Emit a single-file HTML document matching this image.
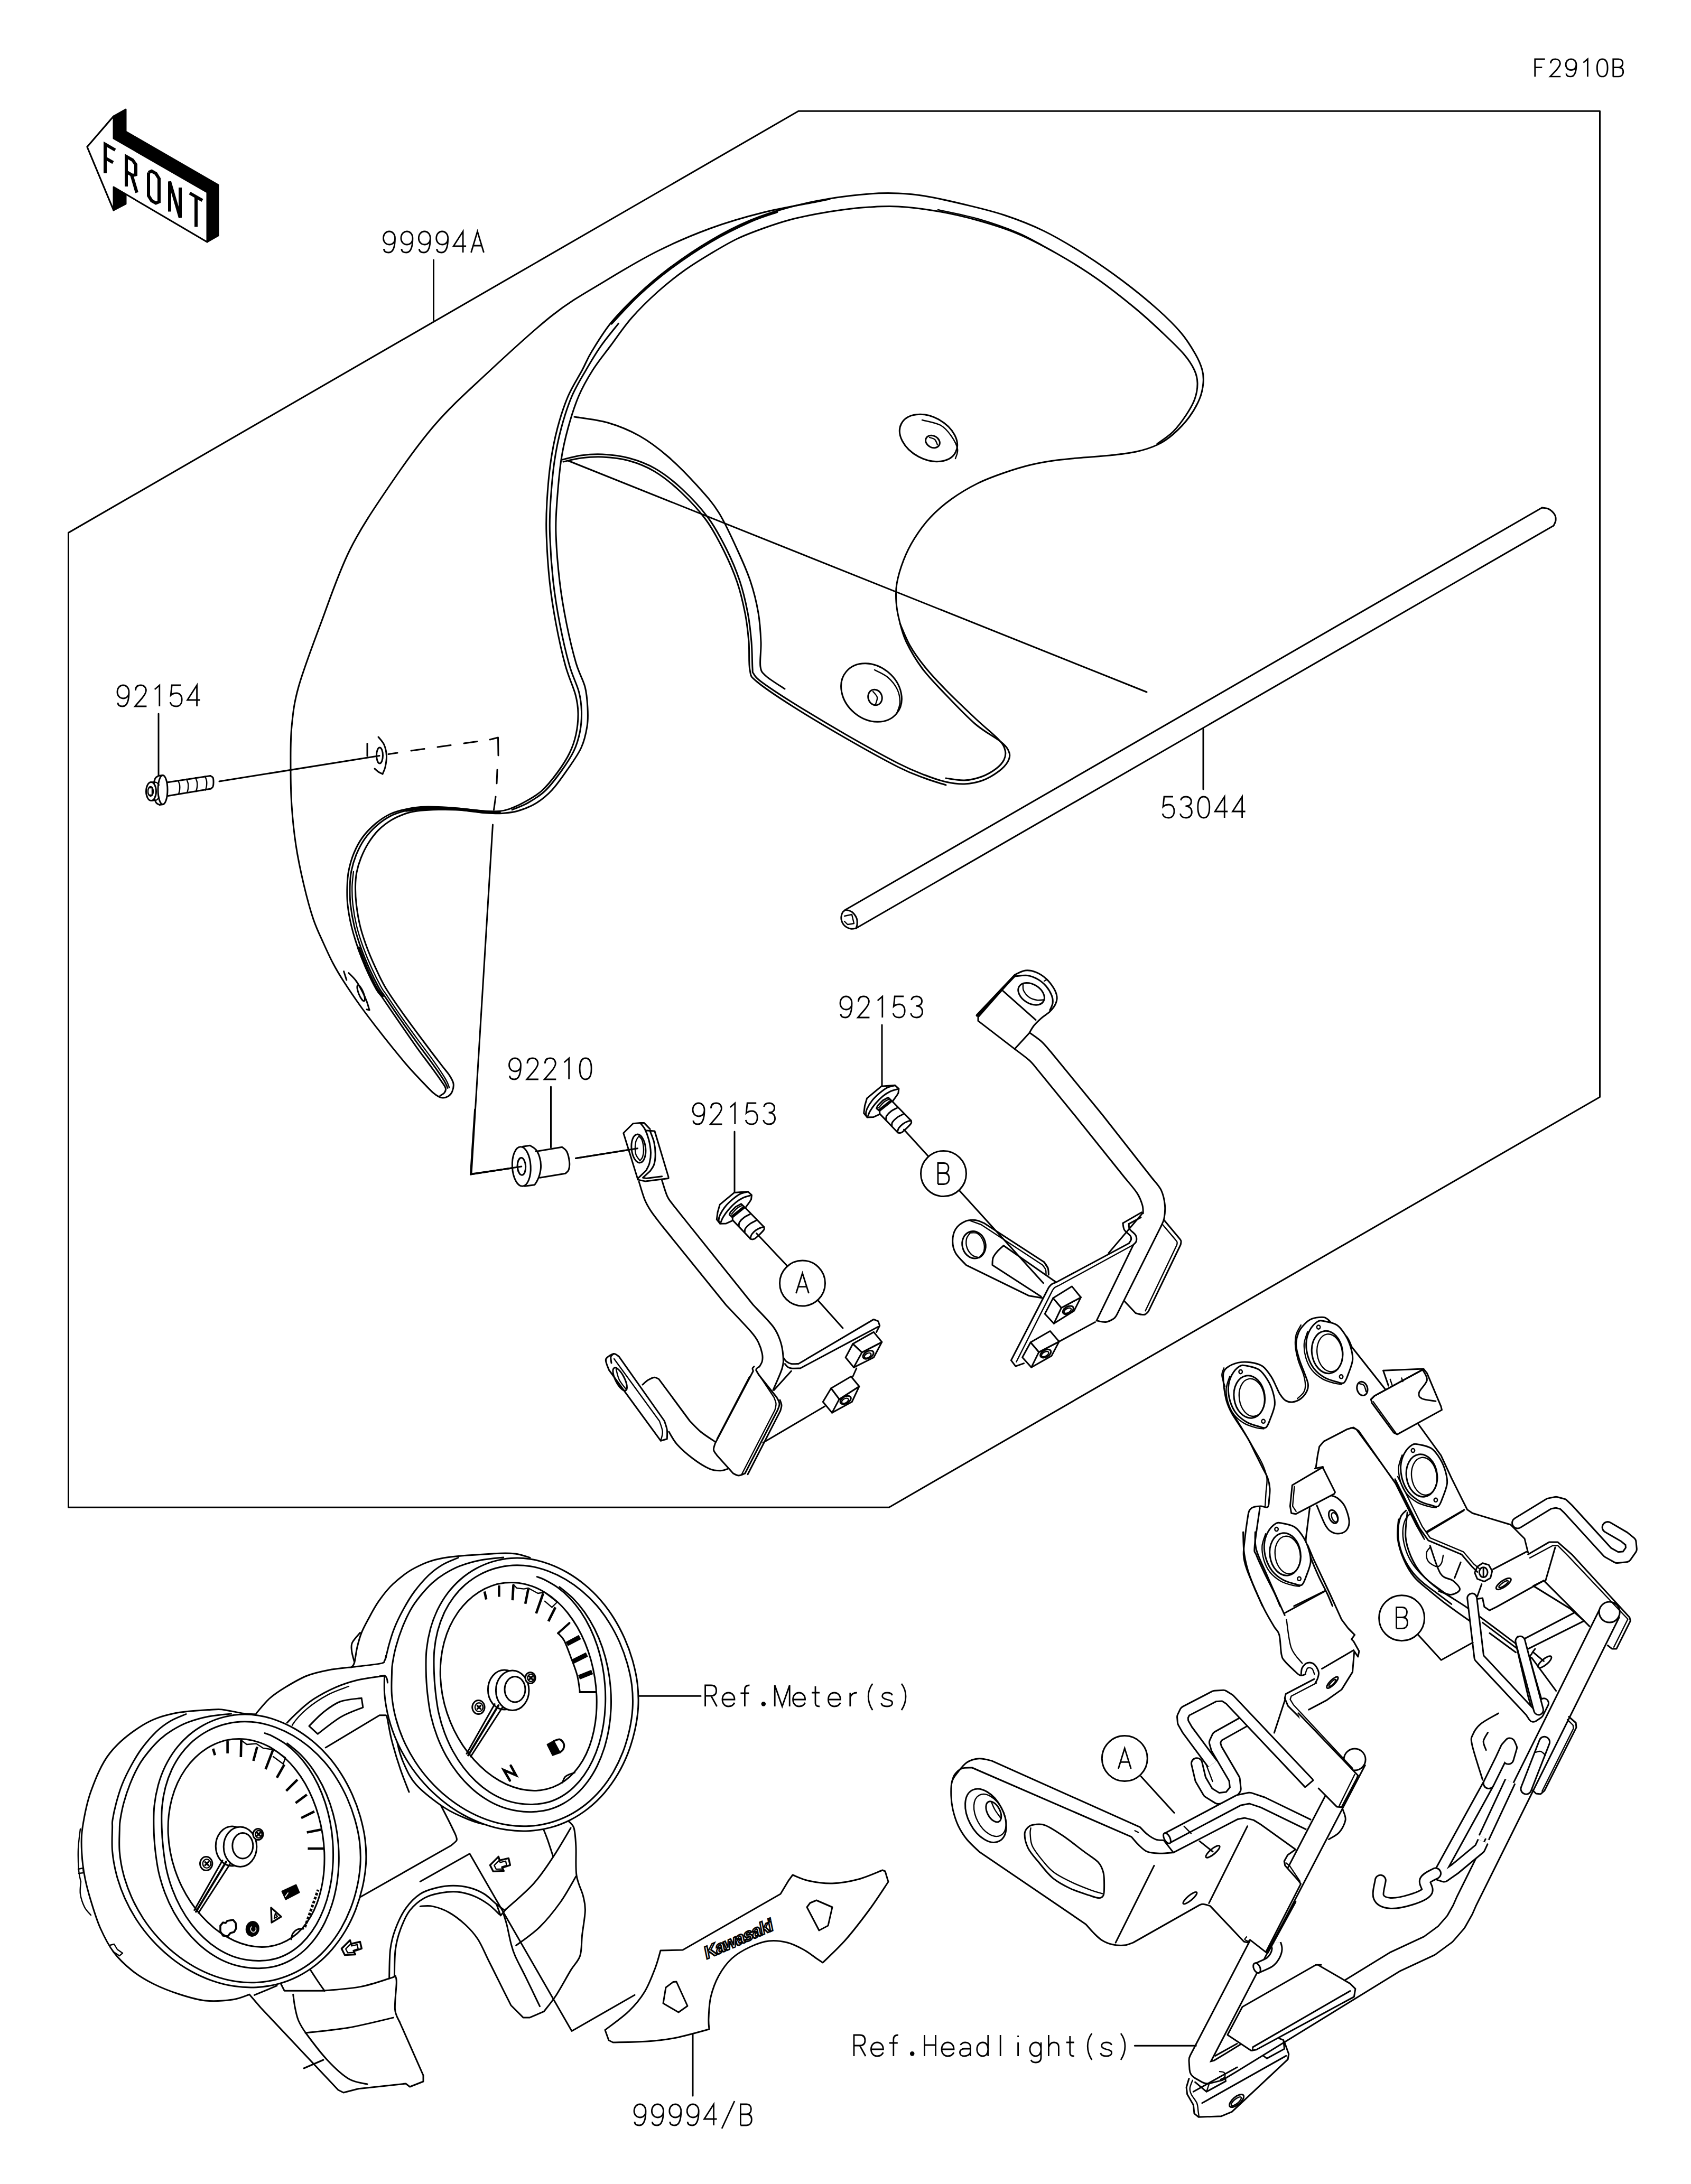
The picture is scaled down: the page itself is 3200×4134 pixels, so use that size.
<!DOCTYPE html>
<html><head><meta charset="utf-8"><title>F2910B</title>
<style>
html,body{margin:0;padding:0;background:#fff;font-family:"Liberation Sans",sans-serif;}
svg{display:block}
svg path,svg ellipse,svg circle,svg line,svg polyline,svg polygon{fill:none;stroke:#000;stroke-width:3;stroke-linecap:round;stroke-linejoin:round}
svg .w{fill:#fff}
svg .k{fill:#000}
svg .n{stroke-width:2.4}
svg .t path{stroke-linecap:butt;stroke-linejoin:miter;stroke-width:inherit}
</style></head><body>
<svg xmlns="http://www.w3.org/2000/svg" width="3200" height="4134" viewBox="0 0 3200 4134">
<rect x="0" y="0" width="3200" height="4134" fill="#fff" stroke="none"/>
<g id="01_frame"><path d="M129.5,1008.4 L1511,210.3 L3027.5,210.3 L3027.5,2076.5 L1682.4,2853.2 L129.5,2853.2Z"/>
<g class="t" style="stroke-width:3.2"><path d="M2,0L2,-40L23,-40M2,-21L17,-21" transform="translate(2903,145) scale(0.9,0.83)"/><path d="M2,-30C2,-37 6,-40 12,-40C18,-40 22,-36 22,-30C22,-25 19,-21 14,-15L1,0L23,0" transform="translate(2932.6,145) scale(0.9,0.83)"/><path d="M23,-27C23,-19 18,-15 12,-15C6,-15 1,-20 1,-27C1,-35 6,-40 12,-40C18,-40 23,-35 23,-27C23,-12 20,0 11,0C5,0 2,-2 2,-7" transform="translate(2962.2,145) scale(0.9,0.83)"/><path d="M5,-32L14,-40L14,0" transform="translate(2991.8,145) scale(0.9,0.83)"/><path d="M12,-40C5,-40 1,-33 1,-20C1,-7 5,0 12,0C19,0 23,-7 23,-20C23,-33 19,-40 12,-40Z" transform="translate(3021.4,145) scale(0.9,0.83)"/><path d="M2,0L2,-40L13,-40C19,-40 22,-36 22,-31C22,-25 19,-21 13,-21L2,-21M13,-21C20,-21 23,-17 23,-11C23,-4 19,0 13,0L2,0" transform="translate(3051,145) scale(0.9,0.83)"/></g>
<path class="k" d="M165,278 L215,220 L238,207 L238,249 L413,350 L413,446 L392,458 L238,367 L238,386 L215,398Z"/>
<path class="w" d="M165,278 L215,220 L215,262 L392,364 L392,458 L215,354 L215,398Z"/>
<g style="stroke-width:6" id="frontletters"><path d="M199,328 L199,273 L218,284" style="stroke-width:6;stroke-linecap:butt;stroke-linejoin:miter"/><path d="M199,299 L214,307.7" style="stroke-width:6;stroke-linecap:butt;stroke-linejoin:miter"/><path d="M239,353.1 L239,296.1 L251,303.1 L257,311.5 L257,330.5 L251,332.1 L239,325.1" style="stroke-width:6;stroke-linecap:butt;stroke-linejoin:miter"/><path d="M249,330.9 L259,364.7" style="stroke-width:6;stroke-linecap:butt;stroke-linejoin:miter"/><path d="M281,326.4 L287,323.9 L295,328.5 L301,338 L301,382 L295,384.5 L287,379.9 L281,370.4 L281,326.4" style="stroke-width:6;stroke-linecap:butt;stroke-linejoin:miter"/><path d="M321,400.5 L321,343.5 L341,412.1 L341,355.1" style="stroke-width:6;stroke-linecap:butt;stroke-linejoin:miter"/><path d="M359,365.5 L383,379.4" style="stroke-width:6;stroke-linecap:butt;stroke-linejoin:miter"/><path d="M371,372.4 L371,429.4" style="stroke-width:6;stroke-linecap:butt;stroke-linejoin:miter"/></g></g>
<g id="02_windshield"><path d="M1570,377C1565.8,377.8 1565.8,377.8 1545,382C1524.2,386.2 1478.3,393.7 1445,402C1411.7,410.3 1378.3,419.8 1345,432C1311.7,444.2 1278.3,458.3 1245,475C1211.7,491.7 1178.3,511.7 1145,532C1111.7,552.3 1082.8,567.3 1045,597C1007.2,626.7 955,675.5 918,710C881,744.5 853,769.3 823,804C793,838.7 764.8,878.5 738,918C711.2,957.5 684,996.8 662,1041C640,1085.2 622.2,1139.8 606,1183C589.8,1226.2 574,1268 565,1300C556,1332 554.5,1350 552,1375C549.5,1400 550,1425 550,1450C550,1475 550.3,1500 552,1525C553.7,1550 556.2,1575 560,1600C563.8,1625 569.5,1651.7 575,1675C580.5,1698.3 586.8,1721.7 593,1740C599.2,1758.3 605.8,1771.2 612,1785C618.2,1798.8 623.6,1810.8 630,1823C636.4,1835.2 642,1844.6 650.6,1858C659.2,1871.4 671.2,1889 681.5,1903.5C691.8,1918 702.1,1931.3 712.4,1944.7C722.7,1958.1 733.1,1971.2 743.4,1983.9C753.7,1996.6 764,2009.3 774.3,2021C784.6,2032.7 797.7,2046.1 805.2,2054C812.8,2061.9 815.5,2064.8 819.6,2068.4C823.7,2072 826.8,2074 829.9,2075.6C833,2077.2 835.1,2078.1 838.2,2078C841.3,2077.9 845.6,2076.9 848.5,2075C851.4,2073.1 854.1,2070.3 855.7,2066.3C857.3,2062.3 858.9,2056.2 858,2051C857.1,2045.8 854.1,2041.1 850.5,2035.4C846.9,2029.7 841.9,2024.5 836.1,2016.9C830.3,2009.3 823,2000 815.5,1990C808,1980 800.4,1970 790.8,1957C781.2,1944 768.1,1926.5 757.8,1911.7C747.5,1897 736.8,1881.9 728.9,1868.5C721,1855.1 716.2,1844.1 710.4,1831.4C704.6,1818.7 698.7,1805.3 693.9,1792.2C689.1,1779.1 684.8,1766.4 681.5,1753C678.2,1739.6 675.8,1724.2 674.3,1711.8C672.8,1699.4 672.4,1688.7 672.5,1678.6C672.6,1668.5 673.2,1660.2 675,1651C676.8,1641.8 679.5,1632.8 683.2,1623.6C686.9,1614.4 691.5,1604.7 697,1596C702.5,1587.3 708.7,1578.7 716,1571.4C723.3,1564.1 732.3,1557.3 741,1552C749.7,1546.7 759.2,1542.8 768.4,1539.8C777.6,1536.8 785.7,1535.5 796,1534.3C806.3,1533.1 818.2,1532.7 830,1532.5C841.8,1532.3 856.2,1532.4 867,1533C877.8,1533.6 885.8,1535 895,1536C904.2,1537 912.8,1538.4 922,1539C931.2,1539.6 940.3,1540.2 950,1539.5C959.7,1538.8 969.2,1538.2 980,1535C990.8,1531.8 1004.2,1526.7 1015,1520C1025.8,1513.3 1035,1505.8 1045,1495C1055,1484.2 1065.8,1468.3 1075,1455C1084.2,1441.7 1094,1428.3 1100,1415C1106,1401.7 1109,1387.5 1111,1375C1113,1362.5 1112.7,1352.5 1112,1340C1111.3,1327.5 1110.7,1314.2 1107,1300C1103.3,1285.8 1095.8,1275 1090,1255C1084.2,1235 1077.2,1205.8 1072,1180C1066.8,1154.2 1062.3,1128.3 1059,1100C1055.7,1071.7 1052.8,1035 1052,1010C1051.2,985 1052.3,973.3 1054,950C1055.7,926.7 1058.5,893.3 1062,870C1065.5,846.7 1069.5,830 1075,810C1080.5,790 1087.2,768.3 1095,750C1102.8,731.7 1112,715.8 1122,700C1132,684.2 1142.8,671.3 1155,655C1167.2,638.7 1180,619.2 1195,602C1210,584.8 1228.3,567 1245,552C1261.7,537 1278.3,524 1295,512C1311.7,500 1328.3,490 1345,480C1361.7,470 1378.3,460 1395,452C1411.7,444 1428.3,438 1445,432C1461.7,426 1478.3,420.5 1495,416C1511.7,411.5 1528.3,408.2 1545,405C1561.7,401.8 1578.3,399.2 1595,397C1611.7,394.8 1627.5,393 1645,392C1662.5,391 1678.3,389.7 1700,391C1721.7,392.3 1750,395.7 1775,400C1800,404.3 1825,410 1850,417C1875,424 1900,431.5 1925,442C1950,452.5 1975,465.8 2000,480C2025,494.2 2050,509.5 2075,527C2100,544.5 2129.2,567.8 2150,585C2170.8,602.2 2185,615.8 2200,630C2215,644.2 2230,658.3 2240,670C2250,681.7 2255.7,690.8 2260,700C2264.3,709.2 2265.8,715.8 2266,725C2266.2,734.2 2264.5,745 2261,755C2257.5,765 2251.8,774.7 2245,785C2238.2,795.3 2229.2,807.8 2220,817C2210.8,826.2 2195,836.2 2190,840"/>
<path d="M833,2074C834.3,2073.1 839.3,2070.7 841,2068.4C842.7,2066.1 844.1,2063.5 843.3,2060.1C842.5,2056.7 840.7,2054.7 836.1,2047.8C831.5,2040.9 823.8,2030.2 815.5,2018.9C807.2,2007.6 796.9,1994.2 786.6,1979.8C776.3,1965.4 764.4,1947.9 753.7,1932.4C743.1,1916.9 729.6,1897 722.7,1887C715.8,1877 717.2,1881.2 712.4,1872.6C707.6,1864 699.7,1848.5 693.9,1835.5C688.1,1822.5 682.2,1808 677.4,1794.3C672.6,1780.5 668.3,1766.8 665,1753C661.7,1739.2 659.1,1724.2 657.8,1711.8C656.5,1699.4 656.7,1689.2 657,1678.6C657.3,1668 657.7,1658.9 659.8,1648.4C661.9,1637.9 665.1,1626 669.5,1615.4C673.9,1604.8 679.1,1594.4 686,1585C692.9,1575.6 702,1566.3 710.7,1559C719.4,1551.7 728.4,1545.6 738,1541C747.6,1536.4 758.7,1533.8 768.4,1531.6C778.1,1529.3 785.7,1528.2 796,1527.5C806.3,1526.8 818.2,1527.1 830,1527.5C841.8,1527.9 856.2,1529.1 867,1530C877.8,1530.9 885.8,1532.1 895,1533C904.2,1533.9 913.7,1535.1 922,1535.5C930.3,1535.9 938.2,1536.2 945,1535.5C951.8,1534.8 955.3,1534.3 963,1531.6C970.7,1528.8 980.7,1524.8 991,1519C1001.3,1513.2 1014.3,1506.5 1025,1497C1035.7,1487.5 1046.2,1474 1055,1462C1063.8,1450 1072.2,1437 1078,1425C1083.8,1413 1087.3,1402.5 1090,1390C1092.7,1377.5 1094.2,1362.5 1094,1350C1093.8,1337.5 1093,1330 1089,1315C1085,1300 1076.2,1282.5 1070,1260C1063.8,1237.5 1057,1206.7 1052,1180C1047,1153.3 1043,1128.3 1040,1100C1037,1071.7 1034.8,1035 1034,1010C1033.2,985 1033.7,972.5 1035,950C1036.3,927.5 1038.7,898.3 1042,875C1045.3,851.7 1049.5,830.8 1055,810C1060.5,789.2 1067.2,768.3 1075,750C1082.8,731.7 1094.5,714.2 1102,700C1109.5,685.8 1110.8,680 1120,665C1129.2,650 1142,628.3 1157,610C1172,591.7 1191.2,572.5 1210,555C1228.8,537.5 1247.5,521.7 1270,505C1292.5,488.3 1320,469.7 1345,455C1370,440.3 1395,427.5 1420,417C1445,406.5 1470,398.8 1495,392C1520,385.2 1545,380.2 1570,376C1595,371.8 1623.3,368.7 1645,367C1666.7,365.3 1682.5,365.3 1700,366C1717.5,366.7 1729.2,367.5 1750,371C1770.8,374.5 1800,381 1825,387C1850,393 1875,398.7 1900,407C1925,415.3 1950,424.8 1975,437C2000,449.2 2025,464.2 2050,480C2075,495.8 2101.7,514.5 2125,532C2148.3,549.5 2171.7,568.7 2190,585C2208.3,601.3 2223,615.8 2235,630C2247,644.2 2255.3,658.3 2262,670C2268.7,681.7 2272.5,690.8 2275,700C2277.5,709.2 2277.8,715.8 2277,725C2276.2,734.2 2274.5,744.2 2270,755C2265.5,765.8 2258.3,778.8 2250,790C2241.7,801.2 2230,813.3 2220,822C2210,830.7 2201.7,836.5 2190,842C2178.3,847.5 2165,851.7 2150,855C2135,858.3 2116.7,860.2 2100,862C2083.3,863.8 2066.7,864.5 2050,866C2033.3,867.5 2016.7,868.7 2000,871C1983.3,873.3 1966.7,876 1950,880C1933.3,884 1916.7,889.2 1900,895C1883.3,900.8 1866.7,906.7 1850,915C1833.3,923.3 1815,934.2 1800,945C1785,955.8 1771.7,967.5 1760,980C1748.3,992.5 1738.3,1006.7 1730,1020C1721.7,1033.3 1715.5,1045.8 1710,1060C1704.5,1074.2 1699.3,1091.7 1697,1105C1694.7,1118.3 1695.2,1128.3 1696,1140C1696.8,1151.7 1698.8,1162.5 1702,1175C1705.2,1187.5 1707.8,1200 1715,1215C1722.2,1230 1733.3,1249.2 1745,1265C1756.7,1280.8 1768.3,1292.5 1785,1310C1801.7,1327.5 1826.7,1354.2 1845,1370C1863.3,1385.8 1884.2,1395.8 1895,1405C1905.8,1414.2 1908,1418.8 1910,1425C1912,1431.2 1910.3,1436.2 1907,1442C1903.7,1447.8 1897.8,1454.2 1890,1460C1882.2,1465.8 1870.8,1473 1860,1477C1849.2,1481 1836.7,1483.5 1825,1484C1813.3,1484.5 1802.5,1482.8 1790,1480C1777.5,1477.2 1765,1472.8 1750,1467C1735,1461.2 1725,1457.8 1700,1445C1675,1432.2 1633.3,1409.2 1600,1390C1566.7,1370.8 1526.7,1346.7 1500,1330C1473.3,1313.3 1452.3,1299.2 1440,1290C1427.7,1280.8 1428.7,1279.2 1426,1275C1423.3,1270.8 1424.7,1275 1424,1265C1423.3,1255 1423.5,1232.5 1422,1215C1420.5,1197.5 1418.7,1179.2 1415,1160C1411.3,1140.8 1406.7,1120 1400,1100C1393.3,1080 1385,1060 1375,1040C1365,1020 1354.2,999.2 1340,980C1325.8,960.8 1306.7,940.5 1290,925C1273.3,909.5 1256.7,896.7 1240,887C1223.3,877.3 1206.7,871.5 1190,867C1173.3,862.5 1155,860.8 1140,860C1125,859.2 1112.7,860.3 1100,862C1087.3,863.7 1070,868.7 1064,870"/>
<path d="M847.2,2059.4C846,2057 844.9,2052.9 840.2,2045.2C835.4,2037.6 827,2025.4 818.6,2013.7C810.3,2001.9 800.2,1989 790,1974.9C779.8,1960.8 767.9,1944.1 757.4,1929C746.9,1913.9 733.8,1894.2 727.1,1884.4C720.4,1874.5 721.9,1878.6 717.2,1870.1C712.5,1861.6 704.6,1846.1 698.9,1833.4C693.2,1820.6 687.6,1807 682.8,1793.6C678.1,1780.2 673.7,1766.6 670.4,1753C667.2,1739.4 664.6,1724.2 663.2,1711.8C661.9,1699.4 661.9,1689 662.1,1678.6C662.4,1668.2 662.8,1659.3 664.8,1649.3C666.8,1639.2 669.9,1628.2 674,1618.1C678.2,1608 683.2,1597.8 689.6,1588.6C696,1579.5 704.2,1570.4 712.4,1563.1C720.7,1555.8 729.7,1549.4 739,1544.6C748.3,1539.8 758.9,1536.8 768.4,1534.3C777.9,1531.8 791.4,1530.5 796,1529.7"/>
<path class="n" d="M850.3,2058.8C849.2,2056.2 848.4,2051.4 843.5,2043.1C838.7,2034.9 829.7,2021.4 821.2,2009.4C812.8,1997.3 803,1984.8 792.8,1970.9C782.7,1957.1 770.8,1940.9 760.5,1926.2C750.1,1911.4 737.2,1891.9 730.7,1882.2C724.1,1872.5 725.8,1876.5 721.2,1868C716.5,1859.6 708.6,1844.1 703,1831.6C697.3,1819.1 692,1806.1 687.3,1793C682.6,1779.9 678.2,1766.5 674.9,1753C671.6,1739.5 669.1,1724.2 667.7,1711.8C666.3,1699.4 666.1,1688.9 666.3,1678.6C666.5,1668.3 668.5,1654.7 668.9,1650"/>
<path d="M678.5,1794.3C681.2,1801.2 689.2,1822.5 695,1835.5C700.8,1848.5 708.7,1864.3 713.5,1872.6C718.3,1880.8 722,1882.9 723.7,1885" style="stroke-width:5.5"/>
<path d="M768.4,1534C773,1533.4 785.7,1531.2 796,1530.5C806.3,1529.8 818.2,1529.8 830,1530C841.8,1530.2 856.2,1530.8 867,1531.5C877.8,1532.2 885.8,1533.5 895,1534.5C904.2,1535.5 913.7,1536.8 922,1537.3C930.3,1537.8 941.2,1537.5 945,1537.5" style="stroke-width:5.5"/>
<path d="M969.1,1532.8C974.2,1530.6 989.1,1525.5 999.6,1519.4C1010.2,1513.3 1021.8,1506.3 1032.2,1496.3C1042.6,1486.3 1053.2,1472 1062.2,1459.5C1071.2,1447 1080,1433.9 1085.9,1421.4C1091.8,1408.9 1095.1,1397.1 1097.6,1384.6C1100,1372.1 1100.8,1358.9 1100.5,1346.4C1100.1,1333.9 1099.4,1324.3 1095.5,1309.6C1091.6,1294.9 1083.2,1279.8 1077.2,1258.2C1071.2,1236.6 1064.3,1206.4 1059.2,1180C1054.1,1153.6 1050,1128.3 1046.8,1100C1043.7,1071.7 1041.3,1035 1040.5,1010C1039.6,985 1040.4,972.8 1041.8,950C1043.3,927.2 1045.8,896.5 1049.2,873.2C1052.6,849.9 1056.7,830.5 1062.2,810C1067.7,789.5 1074.4,768.3 1082.2,750C1090,731.7 1100,715.9 1109.2,700C1118.4,684.1 1127,669.5 1137.2,654.9C1147.4,640.3 1164.9,619.5 1170.4,612.4"/>
<path d="M1157,612C1165.8,602.8 1191.2,574.5 1210,557C1228.8,539.5 1247.5,523.7 1270,507C1292.5,490.3 1320,471.7 1345,457C1370,442.3 1399.2,428.3 1420,419C1440.8,409.7 1461.7,404 1470,401" style="stroke-width:5"/>
<path class="n" d="M1775,397C1787.5,399.8 1825,406.8 1850,414C1875,421.2 1904.7,431.7 1925,440C1945.3,448.3 1964.2,460 1972,464"/>
<path d="M1703,1180C1706.2,1187 1714.2,1208.3 1722,1222C1729.8,1235.7 1738.7,1248 1750,1262C1761.3,1276 1773.7,1289.3 1790,1306C1806.3,1322.7 1831.3,1346.3 1848,1362C1864.7,1377.7 1881,1390.3 1890,1400C1899,1409.7 1900.3,1413.7 1902,1420C1903.7,1426.3 1902.8,1432.2 1900,1438C1897.2,1443.8 1892,1449.7 1885,1455C1878,1460.3 1868,1466.3 1858,1470C1848,1473.7 1836.3,1476.5 1825,1477C1813.7,1477.5 1795.8,1473.7 1790,1473"/>
<path d="M1087,789C1097.5,790.8 1129.5,794 1150,800C1170.5,806 1190.8,814.2 1210,825C1229.2,835.8 1246.7,849.2 1265,865C1283.3,880.8 1304.2,902.5 1320,920C1335.8,937.5 1347.5,950 1360,970C1372.5,990 1385,1018.3 1395,1040C1405,1061.7 1413.3,1080 1420,1100C1426.7,1120 1431.7,1140.8 1435,1160C1438.3,1179.2 1439.3,1198 1440,1215C1440.7,1232 1437.3,1251.2 1439,1262C1440.7,1272.8 1442.3,1273 1450,1280C1457.7,1287 1479.2,1300 1485,1304"/>
<path d="M1066,874C1071.7,872.8 1087.7,868.5 1100,867C1112.3,865.5 1125,864.2 1140,865C1155,865.8 1173.7,867.5 1190,872C1206.3,876.5 1221.8,882.3 1238,892C1254.2,901.7 1270.7,914.7 1287,930C1303.3,945.3 1322.2,965.2 1336,984C1349.8,1002.8 1360.2,1023.3 1370,1043C1379.8,1062.7 1388.3,1082.3 1395,1102C1401.7,1121.7 1406.3,1142.2 1410,1161C1413.7,1179.8 1415.5,1197.2 1417,1215C1418.5,1232.8 1416.5,1255.5 1419,1268C1421.5,1280.5 1418.5,1278.5 1432,1290C1445.5,1301.5 1472,1319.2 1500,1337C1528,1354.8 1566.7,1377.8 1600,1397C1633.3,1416.2 1675,1439.3 1700,1452C1725,1464.7 1735,1467.3 1750,1473C1765,1478.7 1783.3,1483.8 1790,1486"/>
<path d="M1075,872 L2170,1310"/>
<ellipse cx="1757" cy="829" rx="58" ry="40" transform="rotate(28 1757 829)" class="w"/>
<path class="n" d="M1745,795C1750.8,796.7 1770.8,800 1780,805C1789.2,810 1794.7,817.5 1800,825C1805.3,832.5 1810.7,842.8 1812,850C1813.3,857.2 1808.7,865 1808,868"/>
<ellipse cx="1765" cy="836" rx="14" ry="11" transform="rotate(28 1765 836)"/>
<path class="n" d="M1759,828C1760.7,828.7 1766.5,829.7 1769,832C1771.5,834.3 1773.2,840.3 1774,842"/>
<ellipse cx="1649" cy="1311" rx="62" ry="50" transform="rotate(40 1649 1311)" class="w"/>
<path class="n" d="M1655,1268C1659.2,1270.3 1672.8,1275.8 1680,1282C1687.2,1288.2 1694.2,1297 1698,1305C1701.8,1313 1703.2,1322.5 1703,1330C1702.8,1337.5 1698,1346.7 1697,1350"/>
<ellipse cx="1656" cy="1320" rx="13" ry="15" transform="rotate(-20 1656 1320)"/>
<path class="n" d="M1652,1309C1653.3,1310.8 1659.2,1316 1660,1320C1660.8,1324 1657.5,1330.8 1657,1333"/>
<ellipse cx="718.5" cy="1430" rx="6" ry="15"/>
<path d="M695,1407.5 L695,1431"/>
<path d="M716,1395C717.8,1397.5 724.4,1404 727,1410C729.6,1416 731.2,1424 731.5,1431C731.8,1438 730.2,1446.3 729,1452C727.8,1457.7 724.8,1462.8 724,1465"/>
<path d="M724,1465C722.7,1464.3 718.5,1462.7 716,1461C713.5,1459.3 710.2,1456 709,1455"/>
<path d="M415,1479 L718,1430.5"/>
<path d="M735,1427.5L752,1425M778,1421L803,1417.5M828,1414L853,1410.5M878,1407L903,1403.5M927,1400L942.5,1396L943,1430M941,1457L940,1483M938,1508L934.5,1533"/>
<path d="M932.5,1561 L892,2222 L977,2210"/>
<ellipse cx="683.2" cy="1879.8" rx="4.5" ry="16" transform="rotate(-22 683.2 1879.8)"/>
<path d="M650.6,1838.6 L655.8,1855"/>
<path d="M659.9,1841.7C662.1,1844.1 669,1850.2 673.3,1856C677.6,1861.8 682.2,1870.2 685.6,1876.7C689,1883.2 691.7,1889.5 693.9,1895.3C696.1,1901.1 698.1,1909 699,1911.7"/>
<path d="M699,1911.7 L693.9,1910.7"/></g>
<g id="03_tube"><path d="M1600,1722 L2918,961"/>
<path d="M1620,1757 L2940,995"/>
<path d="M2918,961C2920.2,961.4 2927,961.4 2931,963.6C2935,965.8 2939.8,970.4 2942,974C2944.2,977.6 2944.3,981.5 2944,985C2943.7,988.5 2940.7,993.3 2940,995"/>
<path d="M1600,1722C1599,1723 1595.3,1725 1594,1728C1592.7,1731 1591.3,1736 1592,1740C1592.7,1744 1595,1749 1598,1752C1601,1755 1606.3,1757.2 1610,1758C1613.7,1758.8 1618.3,1757.2 1620,1757"/>
<path d="M1600,1722C1602,1722.7 1608.5,1723.3 1612,1726C1615.5,1728.7 1619.3,1734 1621,1738C1622.7,1742 1622.2,1746.8 1622,1750C1621.8,1753.2 1620.3,1755.8 1620,1757"/>
<path class="n" d="M1598,1734 L1612,1731 L1616,1748 L1604,1750 L1598,1744"/>
<path d="M2277,1380 L2277,1494"/>
<g class="t" style="stroke-width:2.8"><path d="M21,-40L4,-40L2,-21C5,-24 9,-25 13,-25C19,-25 23,-20 23,-13C23,-5 19,0 12,0C6,0 2,-3 1,-8" transform="translate(2199,1548) scale(1.0,1.0)"/><path d="M2,-33C3,-38 7,-40 12,-40C18,-40 22,-36 22,-31C22,-25 18,-22 11,-22C19,-22 23,-17 23,-11C23,-4 18,0 12,0C6,0 2,-3 1,-8" transform="translate(2232.4,1548) scale(1.0,1.0)"/><path d="M12,-40C5,-40 1,-33 1,-20C1,-7 5,0 12,0C19,0 23,-7 23,-20C23,-33 19,-40 12,-40Z" transform="translate(2265.8,1548) scale(1.0,1.0)"/><path d="M18,0L18,-40L0,-12L24,-12" transform="translate(2299.2,1548) scale(1.0,1.0)"/><path d="M18,0L18,-40L0,-12L24,-12" transform="translate(2332.6,1548) scale(1.0,1.0)"/></g></g>
<g id="04_labels"><g class="t" style="stroke-width:2.8"><path d="M23,-27C23,-19 18,-15 12,-15C6,-15 1,-20 1,-27C1,-35 6,-40 12,-40C18,-40 23,-35 23,-27C23,-12 20,0 11,0C5,0 2,-2 2,-7" transform="translate(724.5,478) scale(1.0,1.0)"/><path d="M23,-27C23,-19 18,-15 12,-15C6,-15 1,-20 1,-27C1,-35 6,-40 12,-40C18,-40 23,-35 23,-27C23,-12 20,0 11,0C5,0 2,-2 2,-7" transform="translate(757.9,478) scale(1.0,1.0)"/><path d="M23,-27C23,-19 18,-15 12,-15C6,-15 1,-20 1,-27C1,-35 6,-40 12,-40C18,-40 23,-35 23,-27C23,-12 20,0 11,0C5,0 2,-2 2,-7" transform="translate(791.3,478) scale(1.0,1.0)"/><path d="M23,-27C23,-19 18,-15 12,-15C6,-15 1,-20 1,-27C1,-35 6,-40 12,-40C18,-40 23,-35 23,-27C23,-12 20,0 11,0C5,0 2,-2 2,-7" transform="translate(824.7,478) scale(1.0,1.0)"/><path d="M18,0L18,-40L0,-12L24,-12" transform="translate(858.1,478) scale(1.0,1.0)"/><path d="M0,0L12,-40L24,0M4.5,-13L19.5,-13" transform="translate(891.5,478) scale(1.0,1.0)"/></g>
<path d="M820.5,492 L820.5,606"/>
<g class="t" style="stroke-width:2.8"><path d="M23,-27C23,-19 18,-15 12,-15C6,-15 1,-20 1,-27C1,-35 6,-40 12,-40C18,-40 23,-35 23,-27C23,-12 20,0 11,0C5,0 2,-2 2,-7" transform="translate(221,1337) scale(1.0,1.0)"/><path d="M2,-30C2,-37 6,-40 12,-40C18,-40 22,-36 22,-30C22,-25 19,-21 14,-15L1,0L23,0" transform="translate(254.4,1337) scale(1.0,1.0)"/><path d="M5,-32L14,-40L14,0" transform="translate(287.8,1337) scale(1.0,1.0)"/><path d="M21,-40L4,-40L2,-21C5,-24 9,-25 13,-25C19,-25 23,-20 23,-13C23,-5 19,0 12,0C6,0 2,-3 1,-8" transform="translate(321.2,1337) scale(1.0,1.0)"/><path d="M18,0L18,-40L0,-12L24,-12" transform="translate(354.6,1337) scale(1.0,1.0)"/></g>
<path d="M300,1351 L300,1467"/>
<g class="t" style="stroke-width:2.8"><path d="M23,-27C23,-19 18,-15 12,-15C6,-15 1,-20 1,-27C1,-35 6,-40 12,-40C18,-40 23,-35 23,-27C23,-12 20,0 11,0C5,0 2,-2 2,-7" transform="translate(962.5,2043) scale(1.0,1.0)"/><path d="M2,-30C2,-37 6,-40 12,-40C18,-40 22,-36 22,-30C22,-25 19,-21 14,-15L1,0L23,0" transform="translate(995.9,2043) scale(1.0,1.0)"/><path d="M2,-30C2,-37 6,-40 12,-40C18,-40 22,-36 22,-30C22,-25 19,-21 14,-15L1,0L23,0" transform="translate(1029.3,2043) scale(1.0,1.0)"/><path d="M5,-32L14,-40L14,0" transform="translate(1062.7,2043) scale(1.0,1.0)"/><path d="M12,-40C5,-40 1,-33 1,-20C1,-7 5,0 12,0C19,0 23,-7 23,-20C23,-33 19,-40 12,-40Z" transform="translate(1096.1,2043) scale(1.0,1.0)"/></g>
<path d="M1042.5,2057 L1042.5,2172"/>
<g class="t" style="stroke-width:2.8"><path d="M23,-27C23,-19 18,-15 12,-15C6,-15 1,-20 1,-27C1,-35 6,-40 12,-40C18,-40 23,-35 23,-27C23,-12 20,0 11,0C5,0 2,-2 2,-7" transform="translate(1310,2128) scale(1.0,1.0)"/><path d="M2,-30C2,-37 6,-40 12,-40C18,-40 22,-36 22,-30C22,-25 19,-21 14,-15L1,0L23,0" transform="translate(1343.4,2128) scale(1.0,1.0)"/><path d="M5,-32L14,-40L14,0" transform="translate(1376.8,2128) scale(1.0,1.0)"/><path d="M21,-40L4,-40L2,-21C5,-24 9,-25 13,-25C19,-25 23,-20 23,-13C23,-5 19,0 12,0C6,0 2,-3 1,-8" transform="translate(1410.2,2128) scale(1.0,1.0)"/><path d="M2,-33C3,-38 7,-40 12,-40C18,-40 22,-36 22,-31C22,-25 18,-22 11,-22C19,-22 23,-17 23,-11C23,-4 18,0 12,0C6,0 2,-3 1,-8" transform="translate(1443.6,2128) scale(1.0,1.0)"/></g>
<path d="M1390,2142 L1390,2257"/>
<g class="t" style="stroke-width:2.8"><path d="M23,-27C23,-19 18,-15 12,-15C6,-15 1,-20 1,-27C1,-35 6,-40 12,-40C18,-40 23,-35 23,-27C23,-12 20,0 11,0C5,0 2,-2 2,-7" transform="translate(1589,1926) scale(1.0,1.0)"/><path d="M2,-30C2,-37 6,-40 12,-40C18,-40 22,-36 22,-30C22,-25 19,-21 14,-15L1,0L23,0" transform="translate(1622.4,1926) scale(1.0,1.0)"/><path d="M5,-32L14,-40L14,0" transform="translate(1655.8,1926) scale(1.0,1.0)"/><path d="M21,-40L4,-40L2,-21C5,-24 9,-25 13,-25C19,-25 23,-20 23,-13C23,-5 19,0 12,0C6,0 2,-3 1,-8" transform="translate(1689.2,1926) scale(1.0,1.0)"/><path d="M2,-33C3,-38 7,-40 12,-40C18,-40 22,-36 22,-31C22,-25 18,-22 11,-22C19,-22 23,-17 23,-11C23,-4 18,0 12,0C6,0 2,-3 1,-8" transform="translate(1722.6,1926) scale(1.0,1.0)"/></g>
<path d="M1669,1940 L1669,2057"/></g>
<g id="05_bolt92154"><path d="M316,1481 L398,1468.5"/>
<path d="M318,1506.5 L399,1493"/>
<path d="M398,1468.5C398.8,1469.1 402,1469.9 403,1472C404,1474.1 404,1478.2 404,1481C404,1483.8 403.8,1487 403,1489C402.2,1491 399.7,1492.3 399,1493"/>
<path class="n" d="M337,1477.3C337.5,1478.7 339.5,1482.9 340,1485.8C340.5,1488.7 340.3,1491.9 340,1494.8C339.7,1497.7 338.3,1501.9 338,1503.3"/>
<path class="n" d="M353,1474.8C353.5,1476.3 355.5,1480.4 356,1483.3C356.5,1486.3 356.3,1489.4 356,1492.3C355.7,1495.3 354.3,1499.4 354,1500.8"/>
<path class="n" d="M370,1472.2C370.5,1473.7 372.5,1477.8 373,1480.7C373.5,1483.7 373.3,1486.8 373,1489.7C372.7,1492.7 371.3,1496.8 371,1498.2"/>
<path class="n" d="M388,1469.5C388.5,1470.9 390.5,1475.1 391,1478C391.5,1480.9 391.3,1484.1 391,1487C390.7,1489.9 389.3,1494.1 389,1495.5"/>
<ellipse cx="308" cy="1495" rx="9" ry="27.5" class="w"/>
<path d="M300,1468.5C299,1469.2 295.5,1470.4 294,1473C292.5,1475.6 291.6,1480 291,1484C290.4,1488 290.3,1492.7 290.5,1497C290.7,1501.3 291.1,1506.2 292,1510C292.9,1513.8 294.3,1517.8 296,1520C297.7,1522.2 301,1522.9 302,1523.5"/>
<path d="M300,1468.5 L308,1467.5"/>
<path d="M302,1523.5 L309,1522.5"/>
<ellipse cx="286" cy="1498" rx="9.5" ry="17.5" class="w"/>
<path class="n" d="M288,1480.5C289.3,1480.6 293.8,1480.1 296,1481C298.2,1481.9 300.2,1485.2 301,1486"/>
<path class="n" d="M288,1515.5C289.3,1515.3 293.8,1515.6 296,1514.5C298.2,1513.4 300.2,1509.9 301,1509"/>
<ellipse cx="285" cy="1498" rx="5" ry="9" class="n"/>
<path class="n" d="M282,1491 L288,1491 L288,1505 L282,1505"/></g>
<g id="06_bracketA"><path d="M898.6,2100 L890.4,2223 L986.8,2208"/>
<path d="M1014.1,2179.5L1063.8,2171.3C1065.2,2172.7 1070.2,2174.8 1072.5,2179.5C1074.8,2184.2 1076.9,2193.6 1077.5,2199.4C1078.1,2205.2 1077.5,2210.7 1076.2,2214.3C1075,2217.9 1071,2220 1070,2221.2L1021.6,2229.2"/>
<path d="M989.3,2170.3L1003,2168.3C1004.8,2169.6 1011,2172.4 1014,2176C1017,2179.6 1019.4,2184.9 1021,2190C1022.6,2195.1 1023.6,2201.1 1023.6,2206.8C1023.6,2212.5 1022.3,2219.1 1021,2224C1019.7,2228.9 1017.6,2232.9 1016,2236C1014.4,2239.1 1012.3,2241.7 1011.6,2242.8L993,2245.3"/>
<ellipse cx="986.8" cy="2208" rx="17.4" ry="37.3" transform="rotate(-3 986.8 2208)" class="w"/>
<ellipse cx="987" cy="2207.8" rx="7.7" ry="16.4" transform="rotate(-3 987 2207.8)"/>
<path class="n" d="M984,2193C983.2,2194.2 980.2,2196.5 979.5,2200C978.8,2203.5 978.8,2210.2 979.5,2214C980.2,2217.8 983.2,2221.5 984,2223"/>
<path d="M890.4,2223 L986.8,2208"/>
<path d="M1089.4,2192.6 L1206.6,2173.8"/>
<path d="M1211.6,2125.6 L1219,2125.6 L1230.2,2137.3"/>
<path d="M1221.5,2139.7 L1238.9,2141 L1265,2227.9 L1265,2230.4 L1221.5,2236.1 L1206.6,2232.9"/>
<path d="M1230.2,2141C1231.5,2144.5 1236,2154.8 1237.7,2162C1239.4,2169.2 1240.2,2177.4 1240.2,2184.5C1240.2,2191.6 1239.4,2198.9 1237.7,2204.3C1236,2209.7 1231.3,2214.9 1230,2217"/>
<path d="M1230,2217 L1216.6,2229.2 L1222.8,2230.4 L1252.6,2226.7"/>
<path class="w" d="M1206.6,2231.1L1179.8,2144.7L1197.9,2126.8L1211.6,2125.6C1213,2127.6 1217.6,2132.1 1220.3,2137.3C1223,2142.6 1225.8,2149.7 1227.7,2157.1C1229.6,2164.5 1231.3,2174.6 1231.5,2182C1231.7,2189.4 1230.5,2196.2 1229,2201.8C1227.5,2207.4 1223.8,2213.2 1222.8,2215.5L1206.6,2231.1"/>
<ellipse cx="1208.4" cy="2174" rx="13.3" ry="27" transform="rotate(-6 1208.4 2174)"/>
<path class="n" d="M1209,2150.5C1208,2152.4 1204,2156.4 1203,2162C1202,2167.6 1201.7,2178.2 1203,2184C1204.3,2189.8 1209.7,2194.8 1211,2197"/>
<path class="n" d="M1209,2150.5C1210,2151.8 1213.5,2153.8 1215,2158C1216.5,2162.2 1217.8,2170.7 1218,2176C1218.2,2181.3 1217.2,2186.5 1216,2190C1214.8,2193.5 1211.8,2195.8 1211,2197"/>
<path d="M1089.4,2192.6 L1206.6,2173.8"/>
<path d="M1209.1,2236.6C1211,2242.4 1216.4,2261.9 1220.3,2271.4C1224.2,2280.9 1227.3,2285.6 1232.7,2293.7C1238.1,2301.8 1249.3,2315.6 1252.6,2320L1373.8,2470C1381.8,2478.6 1411.5,2509.4 1421.8,2521.4C1432.1,2533.4 1432.2,2535.1 1435.6,2542C1439,2548.9 1441.3,2556.9 1442.4,2562.6C1443.5,2568.3 1443.2,2572.3 1442.4,2576.3C1441.6,2580.3 1438.2,2584.9 1437.3,2586.6"/>
<path d="M1252.6,2234.1C1254.2,2239.1 1259.2,2256.4 1262.5,2263.9C1265.8,2271.4 1266.2,2270.5 1272.4,2278.8C1278.7,2287.1 1295.4,2307.8 1300,2313.6L1425.3,2470C1431.6,2476.8 1454.4,2499.6 1463,2511C1471.6,2522.4 1473.5,2529.4 1476.7,2538.6C1479.9,2547.8 1481.3,2557.4 1481.9,2566C1482.5,2574.6 1483.2,2579.1 1480.1,2590C1476.9,2600.9 1465.8,2624.3 1463,2631.2"/>
<path d="M1483.6,2571.2C1484.3,2572.2 1485.7,2575.3 1488,2577C1490.3,2578.7 1493.5,2580.8 1497.3,2581.5C1501.1,2582.2 1508.7,2581.5 1511,2581.5L1653.3,2497.4L1661.9,2500.9L1664.7,2509.4L1658.5,2521.4"/>
<path d="M1485.3,2581.5C1486.1,2582.4 1488,2585.6 1490,2587C1492,2588.4 1493.2,2589.5 1497.3,2590C1501.4,2590.5 1511.6,2590 1514.4,2590L1661.9,2511.2"/>
<path d="M1560.7,2662 L1444.1,2730.7"/>
<path d="M1497.3,2595.2 L1464.7,2631.2"/>
<path class="w" d="M1613.9,2543.7 L1600.2,2569.5 L1615.6,2588.3 L1653.4,2569.5 L1668.8,2540.3 L1631.1,2559.9Z"/>
<path class="w" d="M1613.9,2543.7 L1653.4,2521.4 L1668.8,2540.3 L1631.1,2559.9Z"/>
<path d="M1615.6,2588.3 L1631.1,2559.9"/>
<ellipse cx="1643" cy="2564.3" rx="11" ry="6.5" transform="rotate(-30 1643 2564.3)"/>
<ellipse cx="1642" cy="2565.8" rx="7" ry="4" transform="rotate(-30 1642 2565.8)" class="n"/>
<path class="w" d="M1572.8,2627.8 L1557.3,2653.5 L1574.5,2674.1 L1612.2,2653.5 L1625.9,2624.3 L1588.2,2648.4Z"/>
<path class="w" d="M1572.8,2627.8 L1610.5,2605.5 L1625.9,2624.3 L1588.2,2648.4Z"/>
<path d="M1574.5,2674.1 L1588.2,2648.4"/>
<ellipse cx="1600.2" cy="2650" rx="11" ry="6.5" transform="rotate(-30 1600.2 2650)"/>
<ellipse cx="1599.2" cy="2651.5" rx="7" ry="4" transform="rotate(-30 1599.2 2651.5)" class="n"/>
<path d="M1613.9,2605.5 L1620.8,2590"/>
<path d="M1216,2621C1217.7,2619.6 1222.6,2614.6 1226.3,2612.3C1230,2610 1234.9,2607.5 1238.3,2607.2C1241.7,2606.9 1245.5,2610 1246.9,2610.6L1305.2,2689.5C1308.6,2692.9 1317.8,2703.4 1325.8,2710C1333.8,2716.6 1348.6,2725.8 1353.2,2729"/>
<path d="M1265.8,2710C1268.4,2714 1273.5,2725.4 1281.2,2734C1288.9,2742.6 1301.7,2753.8 1312,2761.5C1322.3,2769.2 1334.4,2776.7 1343,2780.4C1351.6,2784.1 1357.8,2783.8 1363.5,2783.8C1369.2,2783.8 1374.9,2781 1377.2,2780.4"/>
<path class="w" d="M1152.6,2593.5C1151.7,2591.2 1148.3,2583.5 1147.4,2579.8C1146.5,2576.1 1145.1,2574.1 1147.4,2571.2C1149.7,2568.3 1157.2,2563.2 1161.2,2562.6C1165.2,2562 1169.7,2566.9 1171.4,2567.8L1257.2,2689.5C1258,2692.4 1261.5,2701 1262.3,2706.7C1263.1,2712.4 1262.3,2721 1262.3,2723.8L1250.3,2727.2Z"/>
<path d="M1161.2,2562.6C1160.3,2563.5 1156.7,2565.1 1156,2568C1155.3,2570.9 1156.8,2578 1157,2580"/>
<path class="n" d="M1162,2572L1248,2690C1249,2693.3 1253.4,2703.8 1253.8,2710C1254.2,2716.2 1250.9,2724.3 1250.3,2727.2"/>
<ellipse cx="1173.2" cy="2610.6" rx="8.5" ry="24" transform="rotate(-27 1173.2 2610.6)"/>
<path class="n" d="M1166,2592C1167,2595.3 1168.8,2605.7 1172,2612C1175.2,2618.3 1182.8,2627 1185,2630"/>
<path class="w" d="M1427,2586.6C1426.5,2587.2 1424.3,2588.6 1424,2590C1423.7,2591.4 1425.1,2594.3 1425.3,2595.2L1353.2,2732.4C1352.8,2734.4 1349.9,2740.7 1350.5,2744.4C1351.1,2748.1 1355.7,2753 1356.7,2754.7L1387.5,2789C1389.2,2789.7 1394.1,2793 1397.8,2793C1401.5,2793 1407.8,2789.7 1409.8,2789L1471.6,2669C1472.2,2667 1475.3,2661 1475,2657C1474.7,2653 1470.8,2647 1469.9,2645L1435.6,2602C1434.8,2600.3 1430.7,2594.6 1431,2592C1431.3,2589.4 1436.2,2587.5 1437.3,2586.6"/>
<path class="n" d="M1418.4,2605.5 L1356.7,2723.8"/>
<path class="n" d="M1430.4,2593.5L1464.7,2645C1465.3,2647 1468.2,2653 1468.5,2657C1468.8,2661 1466.8,2667 1466.4,2669L1404,2790"/>
<path d="M1415,2790.7 L1476.7,2670.6"/>
<path d="M1476.7,2670.6C1477.1,2668.8 1479.1,2663.4 1479,2660C1478.9,2656.6 1476.5,2651.7 1476,2650"/>
<circle cx="1518.5" cy="2429" r="43"/>
<path d="M1431.5,2334.5 L1490,2396.5"/>
<path d="M1547.5,2461 L1595,2514"/>
<g class="t" style="stroke-width:2.8"><path d="M0,0L12,-40L24,0M4.5,-13L19.5,-13" transform="translate(1506.5,2448) scale(1,0.95)"/></g></g>
<g id="07_bolts"><path d="M1410.4,2286.3 L1445.6,2322.4"/>
<path d="M1386.3,2309.4 L1420,2344.6"/>
<path d="M1445.6,2322.4C1445.7,2322.9 1446.4,2324.6 1446.3,2325.6C1446.2,2326.6 1446.7,2326.5 1445.1,2328.5C1443.5,2330.5 1439.4,2334.8 1436.6,2337.5C1433.8,2340.2 1430.5,2343.2 1428.5,2344.6C1426.5,2346 1425.7,2345.8 1424.3,2345.9C1422.9,2346 1420.7,2345.2 1420,2345.1"/>
<path d="M1445.3,2322.9C1444.5,2323 1443.1,2322.6 1440.6,2323.5C1438.1,2324.4 1433.5,2326.3 1430.5,2328.5C1427.5,2330.7 1424.2,2334 1422.5,2336.5C1420.8,2339 1420.4,2342.4 1420,2343.6"/>
<path d="M1419.5,2298.3C1417.7,2299.3 1411.8,2301.8 1408.4,2304.3C1405,2306.8 1401.1,2310.7 1399.4,2313.4C1397.7,2316.1 1398.5,2319.2 1398.3,2320.4"/>
<path d="M1430.5,2310.4C1428.7,2311.4 1422.8,2313.9 1419.5,2316.4C1416.2,2318.9 1412.1,2323 1410.4,2325.5C1408.7,2328 1409.6,2330.5 1409.4,2331.5"/>
<path class="w" d="M1389.3,2257.6 L1402.4,2256.6 L1415.4,2255.6 L1422.5,2262.1 L1421.5,2270.2 L1418.5,2275.2 L1410.4,2286.3 L1402.4,2278.7 L1392.3,2284.2 L1382.3,2294.3 L1380.3,2299.3 L1386.3,2304.3 L1386.3,2310.4 L1374.2,2315.9 L1362.7,2316.2 L1356.3,2308.4 L1358.1,2294.3 L1362.2,2280.2 L1374.2,2270.2Z"/>
<path d="M1415.4,2255.9C1412.9,2256.6 1405.2,2257.7 1400.4,2260.1C1395.5,2262.5 1391,2266.2 1386.3,2270.2C1381.6,2274.2 1376.2,2279.2 1372.2,2284.2C1368.2,2289.2 1364.2,2295.9 1362.2,2300.3C1360.2,2304.7 1360,2307.8 1360.1,2310.4C1360.2,2313.1 1362.3,2315.2 1362.7,2316.2"/>
<path d="M1419.5,2263.1C1417.3,2263.8 1410.9,2265 1406.4,2267.2C1401.9,2269.4 1397,2272.3 1392.3,2276.2C1387.6,2280 1382.2,2285.6 1378.2,2290.3C1374.2,2295 1370.5,2300.4 1368.2,2304.3C1365.9,2308.1 1364.9,2311.9 1364.2,2313.4"/>
<path class="n" d="M1384.3,2298.3C1386,2296.5 1391.1,2290 1394.3,2287.3C1397.5,2284.6 1401.9,2283 1403.4,2282.2"/>
<path d="M1386.3,2302.5 L1406.8,2286.1" style="stroke-width:5.5"/>
<path d="M1688.8,2085 L1724,2121.1"/>
<path d="M1664.7,2108.1 L1698.4,2143.3"/>
<path d="M1724,2121.1C1724.1,2121.6 1724.8,2123.3 1724.7,2124.3C1724.6,2125.3 1725.1,2125.2 1723.5,2127.2C1721.9,2129.2 1717.8,2133.5 1715,2136.2C1712.2,2138.9 1709,2141.9 1706.9,2143.3C1704.9,2144.7 1704.1,2144.5 1702.7,2144.6C1701.3,2144.7 1699.1,2143.9 1698.4,2143.8"/>
<path d="M1723.7,2121.6C1722.9,2121.7 1721.5,2121.3 1719,2122.2C1716.5,2123.1 1711.9,2125 1708.9,2127.2C1705.9,2129.4 1702.7,2132.7 1700.9,2135.2C1699.2,2137.7 1698.8,2141.1 1698.4,2142.3"/>
<path d="M1697.9,2097C1696.1,2098 1690.2,2100.5 1686.8,2103C1683.4,2105.5 1679.5,2109.4 1677.8,2112.1C1676.1,2114.8 1676.9,2117.9 1676.7,2119.1"/>
<path d="M1708.9,2109.1C1707.1,2110.1 1701.2,2112.6 1697.9,2115.1C1694.6,2117.6 1690.5,2121.7 1688.8,2124.2C1687.1,2126.7 1688,2129.2 1687.8,2130.2"/>
<path class="w" d="M1667.7,2056.3 L1680.8,2055.3 L1693.8,2054.3 L1700.9,2060.8 L1699.9,2068.9 L1696.9,2073.9 L1688.8,2085 L1680.8,2077.4 L1670.7,2082.9 L1660.7,2093 L1658.7,2098 L1664.7,2103 L1664.7,2109.1 L1652.6,2114.6 L1641.1,2114.9 L1634.7,2107.1 L1636.5,2093 L1640.6,2078.9 L1652.6,2068.9Z"/>
<path d="M1693.8,2054.6C1691.3,2055.3 1683.6,2056.4 1678.8,2058.8C1674,2061.2 1669.4,2064.9 1664.7,2068.9C1660,2072.9 1654.6,2077.9 1650.6,2082.9C1646.6,2087.9 1642.6,2094.6 1640.6,2099C1638.6,2103.4 1638.4,2106.5 1638.5,2109.1C1638.6,2111.8 1640.7,2113.9 1641.1,2114.9"/>
<path d="M1697.9,2061.8C1695.7,2062.5 1689.3,2063.7 1684.8,2065.9C1680.3,2068.1 1675.4,2071.1 1670.7,2074.9C1666,2078.8 1660.6,2084.3 1656.6,2089C1652.6,2093.7 1648.9,2099.2 1646.6,2103C1644.3,2106.8 1643.3,2110.6 1642.6,2112.1"/>
<path class="n" d="M1662.7,2097C1664.4,2095.2 1669.5,2088.7 1672.7,2086C1675.9,2083.3 1680.3,2081.8 1681.8,2080.9"/>
<path d="M1664.7,2101.2 L1685.2,2084.8" style="stroke-width:5.5"/>
<circle cx="1785.5" cy="2221.5" r="43"/>
<path d="M1710.5,2138 L1756.5,2188.5"/>
<path d="M1815.5,2253.5 L1974.4,2428.7"/>
<g class="t" style="stroke-width:2.8"><path d="M2,0L2,-40L13,-40C19,-40 22,-36 22,-31C22,-25 19,-21 13,-21L2,-21M13,-21C20,-21 23,-17 23,-11C23,-4 19,0 13,0L2,0" transform="translate(1773,2241.5)"/></g></g>
<g id="08_bracketB"><path d="M1983,2400.3 L1975.9,2389L1862.3,2315.2C1859.5,2314.2 1851.4,2310 1845.3,2309.5C1839.2,2309 1831.6,2309.5 1825.4,2312.3C1819.2,2315.1 1812.2,2320.3 1808.4,2326.5C1804.6,2332.7 1802.7,2341.6 1802.7,2349.2C1802.7,2356.8 1804.1,2364.3 1808.4,2371.9C1812.7,2379.5 1825,2390.8 1828.3,2394.6L1947.5,2452.8L1973,2457"/>
<path class="n" d="M1836.8,2310.9 L1856.6,2318L1973,2394.6C1974,2396 1977.6,2400.3 1978.7,2403.2C1979.8,2406.1 1979.4,2410.5 1979.5,2412"/>
<path d="M1975.9,2389C1977.1,2390.9 1981.6,2396.3 1983,2400.3C1984.4,2404.3 1984.2,2410.9 1984.4,2413"/>
<ellipse cx="1843" cy="2356.3" rx="22" ry="26" transform="rotate(-15 1843 2356.3)"/>
<path class="n" d="M1836,2333.5C1834.8,2335.4 1830,2340.2 1829,2345C1828,2349.8 1828.2,2356.8 1830,2362C1831.8,2367.2 1836.2,2372.9 1840,2376C1843.8,2379.1 1850.8,2379.8 1853,2380.5"/>
<path class="n" d="M1836,2333.5C1838.3,2333.8 1845.8,2332.2 1850,2335C1854.2,2337.8 1859,2344.5 1861,2350C1863,2355.5 1863.3,2362.9 1862,2368C1860.7,2373.1 1854.5,2378.4 1853,2380.5"/>
<path d="M1997.1,2425.9L1899.2,2357.7C1897.3,2359.4 1891.3,2364.2 1888,2368C1884.7,2371.8 1881.1,2376 1879.4,2380.4C1877.7,2384.8 1878.2,2392.2 1877.9,2394.6L1970.2,2454.2"/>
<path d="M2202.9,2309.5L2231.3,2343.5C2231.9,2344.4 2234.5,2346.9 2235,2349C2235.5,2351.1 2234.3,2354.8 2234.2,2356L2173.1,2482.6C2172.1,2483.5 2169.1,2487.1 2167,2488C2164.9,2488.9 2163.4,2488.7 2160.4,2488.3C2157.4,2487.9 2150.9,2486 2149,2485.5L2127.7,2462.8"/>
<path class="n" d="M2200.1,2318L2224.2,2346.4C2224.8,2347.2 2227,2349.3 2227.5,2351C2228,2352.7 2227.2,2355.4 2227.1,2356.3L2167.5,2481.2"/>
<path class="w" d="M2197.3,2320.8L2117.8,2479.8C2116.8,2481.7 2113.9,2488.2 2112,2491C2110.1,2493.8 2109.7,2494.9 2106.4,2496.8C2103.1,2498.7 2097.4,2502 2092.2,2502.5C2087,2503 2078,2500.2 2075.2,2499.7"/>
<path d="M2161.8,2296.7 L2097.9,2371.9"/>
<path d="M1920.2,1985.6C1924.8,1989.1 1940.8,2000.7 1947.7,2006.9C1954.7,2013.1 1959.5,2020.2 1961.9,2022.9L2032.9,2110L2129.1,2230C2132.9,2234.7 2146.4,2249.9 2151.8,2258.4C2157.2,2266.9 2159.9,2274.7 2161.8,2281.1C2163.7,2287.5 2163,2294.1 2163.2,2296.7"/>
<path d="M1949.5,1955.5C1953,1958.2 1964.3,1965.5 1970.8,1971.4C1977.3,1977.3 1985.5,1987.7 1988.5,1991L2086,2110L2180.2,2230C2183,2233.8 2193.3,2244.2 2197.3,2252.7C2201.3,2261.2 2203.5,2272.1 2204.4,2281.1C2205.3,2290.1 2204.1,2300 2202.9,2306.6C2201.7,2313.2 2198.2,2318.4 2197.3,2320.8"/>
<path d="M2124.9,2315.2 L2160.4,2294.7"/>
<path d="M2136.2,2316.6 L2159,2304.4"/>
<path d="M2136.2,2316.6C2136.4,2318.2 2135.6,2322.9 2137.7,2326.5C2139.8,2330.1 2146.9,2334.1 2149,2337.9C2151.1,2341.7 2151.1,2346.1 2150.4,2349.2C2149.7,2352.3 2145.6,2355.1 2144.7,2356.3"/>
<path d="M2124.9,2315.2C2125.4,2317.3 2125.3,2323.9 2127.7,2327.9C2130.1,2331.9 2137,2336.2 2139.1,2339.3C2141.2,2342.4 2141,2344 2140.5,2346.4C2140,2348.8 2136.9,2352.3 2136.2,2353.5"/>
<path d="M2136.2,2353.5L1998.6,2427.3C1997.2,2427.9 1992.4,2429.3 1990,2431C1987.6,2432.7 1985.3,2436.2 1984.4,2437.2L1913.4,2574.9L1921.9,2586.2L1937.5,2580.6"/>
<path class="n" d="M2144.7,2356.3L2004.2,2433C2002.8,2433.7 1998.1,2435.3 1996,2437C1993.9,2438.7 1992.2,2441.9 1991.5,2442.9L1923.3,2577.7"/>
<path d="M2144.7,2356.3 L2075.2,2499.7"/>
<path d="M2072.4,2502.5 L2004.2,2539.4"/>
<path class="w" d="M1992.9,2457.1 L1977.3,2486.9 L1994.3,2505.3 L2032.6,2481.2 L2045.4,2455.7 L2008.5,2475.5Z"/>
<path class="w" d="M1992.9,2457.1 L2028.4,2434.9 L2045.4,2455.7 L2008.5,2475.5Z"/>
<path d="M2008.5,2475.5 L1994.3,2505.3"/>
<ellipse cx="2021.3" cy="2479.8" rx="11" ry="6.5" transform="rotate(-30 2021.3 2479.8)"/>
<ellipse cx="2020.3" cy="2480.8" rx="7.5" ry="4" transform="rotate(-30 2020.3 2480.8)" class="n"/>
<path class="w" d="M1950.3,2540.8 L1934.7,2569.2 L1951.7,2588.2 L1990,2566.4 L2004.2,2539.4 L1965.9,2559.3Z"/>
<path class="w" d="M1950.3,2540.8 L1987.2,2519.5 L2004.2,2539.4 L1965.9,2559.3Z"/>
<path d="M1965.9,2559.3 L1951.7,2588.2"/>
<ellipse cx="1978.7" cy="2562.1" rx="11" ry="6.5" transform="rotate(-30 1978.7 2562.1)"/>
<ellipse cx="1977.7" cy="2563.1" rx="7.5" ry="4" transform="rotate(-30 1977.7 2563.1)" class="n"/>
<path class="w" d="M1920.2,1985.6L1851,1932.4L1851,1925.3L1922.9,1843.7C1925.9,1842.6 1934.4,1837.6 1940.6,1837C1946.8,1836.4 1953.6,1837.6 1960.1,1840.2C1966.6,1842.8 1974.1,1847.6 1979.7,1852.6C1985.3,1857.6 1990.5,1864.7 1993.9,1870.3C1997.3,1875.9 1999.4,1881.3 2000,1886.3C2000.6,1891.3 1999.6,1895.8 1997.4,1900.5C1995.2,1905.2 1991.2,1910.3 1986.8,1914.7C1982.4,1919.1 1975.8,1922.7 1970.8,1927.1C1965.8,1931.5 1960.4,1936.6 1956.6,1941.3C1952.8,1946 1949.2,1953.1 1947.7,1955.5Z"/>
<path d="M1921.1,1848.1C1924.9,1847.8 1937.1,1845.5 1944.2,1846.4C1951.3,1847.3 1957.8,1850.1 1963.7,1853.5C1969.6,1856.9 1975.3,1861.6 1979.7,1866.8C1984.1,1872 1988.2,1879.2 1990.3,1884.5C1992.4,1889.8 1992.7,1894.1 1992.1,1898.7C1991.5,1903.3 1987.7,1909.8 1986.8,1912"/>
<path d="M1849,1922 L1921.1,1845.8" style="stroke-width:5"/>
<path d="M1898,1875.6 L1960.1,1930.6"/>
<path class="n" d="M1976,1857 L1981.5,1854"/>
<ellipse cx="1951.6" cy="1881.3" rx="27" ry="18" transform="rotate(32 1951.6 1881.3)"/>
<path class="n" d="M1936,1863C1936.2,1865 1935,1870.8 1937,1875C1939,1879.2 1943.8,1885 1948,1888C1952.2,1891 1957.6,1892.2 1962,1893C1966.4,1893.8 1972.4,1892.6 1974.5,1892.5"/></g>
<g id="09_meterbody"><path class="w" d="M484,3244.8C480.4,3244.6 472,3244.8 462.2,3243.5C452.4,3242.2 435.1,3238 425.2,3236.7C415.3,3235.4 419,3234.8 403,3235.9C387,3237 351.3,3238.4 329.1,3243.3C306.9,3248.2 290.2,3253 270,3265.5C249.8,3278 224.2,3297.7 208,3318.3C191.8,3338.9 181.3,3365.5 172.6,3389.2C163.9,3412.8 159,3440.5 156,3460.2C153,3479.9 154,3491.7 154.8,3507.5C155.6,3523.3 157.8,3539.4 160.8,3554.8C163.8,3570.2 167.7,3584.1 172.6,3600C177.5,3615.9 182.9,3634.2 190,3650C197.1,3665.8 205,3681.7 215,3695C225,3708.3 237.5,3720 250,3730C262.5,3740 275,3747.5 290,3755C305,3762.5 323.5,3769.7 340,3775C356.5,3780.3 372.3,3785.3 389,3787C405.7,3788.7 426.2,3786.9 440,3785C453.8,3783.1 466.7,3776.9 472,3775.3"/>
<path class="n" d="M152,3462C151.3,3468.3 148.5,3487 148,3500C147.5,3513 148.2,3529.7 149,3540C149.8,3550.3 152.3,3558.3 153,3562"/>
<path class="n" d="M148,3538 L157,3536 L158,3545 L149,3546"/>
<path class="n" d="M153,3562C152.8,3565.8 150.8,3577 152,3585C153.2,3593 156.7,3603.3 160,3610C163.3,3616.7 170,3622.5 172,3625"/>
<path class="n" d="M208,3682 L216,3680 L222,3690 L232,3697 L226,3702 L214,3694"/>
<path class="w" d="M1003,2948.5C998.3,2947.2 986.4,2942.3 975,2941C963.6,2939.7 957.1,2939.5 934.5,2940.8C911.9,2942.1 864.2,2944.5 839.2,2949C814.2,2953.5 800.7,2959.8 784.8,2968C768.9,2976.2 755.3,2987.6 744,2998C732.7,3008.4 724.5,3019.7 716.8,3030.6C709.1,3041.5 703.2,3053.2 697.8,3063.2C692.4,3073.2 687.8,3081.3 684.2,3090.4C680.6,3099.5 678.3,3108.1 676,3117.6C673.7,3127.1 672.4,3141.2 670.6,3147.5C668.8,3153.8 666,3154.3 665.1,3155.7"/>
<path d="M681.5,3090.4C679,3093.6 669.1,3103.6 666.5,3109.5C663.9,3115.4 665,3119.7 665.7,3125.8C666.4,3131.9 669.8,3142.6 670.6,3146"/>
<path d="M741.3,3155.7C741.8,3162.9 742.9,3183.3 744,3199C745.1,3214.7 746.6,3233.2 748,3250C749.4,3266.8 749.4,3285 752.2,3300C755,3315 759.1,3327 765,3340C770.9,3353 775.9,3365.2 787.4,3378C798.9,3390.8 820.4,3407.3 834.2,3417.1C848,3426.9 857,3431.2 870,3437C883,3442.8 895.5,3449 912.3,3452.2C929.1,3455.4 951.3,3457.4 970.8,3456.1C990.3,3454.8 1012.9,3449.2 1029.4,3444.4C1045.9,3439.6 1059,3432.2 1070,3427C1081,3421.8 1091.4,3415.5 1095.7,3413.2"/>
<path d="M485,3243C489.2,3238.3 500.8,3223.2 510,3215C519.2,3206.8 528.2,3201 540,3193.8C551.8,3186.6 567.2,3177.4 580.8,3172C594.4,3166.6 607.5,3163.9 621.6,3161.2C635.7,3158.5 657.9,3156.6 665.1,3155.7"/>
<path d="M525,3285C527.5,3281.6 533,3272.4 540,3264.5C547,3256.6 558.1,3245.5 567.2,3237.3C576.3,3229.2 583.1,3222.8 594.4,3215.6C605.7,3208.3 621.6,3199.7 635.2,3193.8C648.8,3187.9 662.4,3183.6 676,3180.2C689.6,3176.8 708.2,3174.8 716.8,3173.4C725.4,3172 725.9,3172.2 727.7,3172"/>
<path class="n" d="M545,3290C546.4,3285.8 547.6,3273.7 553.6,3264.5C559.6,3255.3 569.5,3244.1 580.8,3234.6C592.1,3225.1 608.4,3214.5 621.6,3207.4C634.8,3200.3 653.6,3194.6 660,3192"/>
<path d="M584.9,3267.2C589.4,3262.8 602.2,3248.7 612,3241C621.8,3233.3 631.4,3225.5 643.4,3221C655.4,3216.5 677.4,3215.3 684.2,3214.2L686.9,3231.9C679.9,3234.9 659.3,3241.6 645,3250C630.7,3258.4 608.5,3276.8 601.2,3282.2Z"/>
<path d="M616.2,3308L718.2,3246.8L730.4,3246.8C730.9,3247.9 731.3,3245.7 733.1,3253.6C734.9,3261.5 737.2,3278.5 741.3,3294.4C745.4,3310.3 752.1,3332.5 757.6,3348.8C763.1,3365.1 771.3,3384.8 774,3392"/>
<path d="M834.2,3417.1C836.8,3422.2 845.5,3438.9 850,3448C854.5,3457.1 859.6,3467.8 861.5,3471.7C861.9,3472.9 863.7,3476.9 864,3479C864.3,3481.1 865.2,3482.1 863.5,3484.5C861.8,3486.9 855.3,3491.8 853.7,3493.2L682,3590.8"/>
<path d="M795.2,3561.5 L888.8,3508.8 L1082,3844.5 L1201,3776.2"/>
<path d="M736.6,3745C736.9,3735.9 736.7,3705.9 738.6,3690.3C740.5,3674.7 743.4,3664.3 748.3,3651.3C753.2,3638.3 760,3623.4 767.8,3612.3C775.6,3601.2 785.4,3591.4 795.2,3584.9C805,3578.4 816,3575.8 826.4,3573.2C836.8,3570.6 847.2,3569.3 857.6,3569.3C868,3569.3 879,3570.6 888.8,3573.2C898.6,3575.8 907.7,3579.7 916.2,3584.9C924.7,3590.1 933.1,3599.2 939.6,3604.4C946.1,3609.6 952.6,3614.2 955.2,3616.2"/>
<path d="M746.4,3741.1C746.7,3732.6 746.3,3705.3 748.3,3690.3C750.2,3675.3 753.5,3663.7 758.1,3651.3C762.7,3639 768.1,3626 775.6,3616.2C783.1,3606.4 793.2,3598.2 803,3592.7C812.8,3587.2 823.8,3584.9 834.2,3583C844.6,3581.1 855,3580 865.4,3581C875.8,3582 886.8,3584.9 896.6,3588.8C906.4,3592.7 915.9,3598.5 924,3604.4C932.1,3610.3 941.8,3620.7 945.4,3624"/>
<path d="M795.2,3608.4C799.1,3608.4 809.5,3606.5 818.6,3608.4C827.7,3610.3 839.4,3614.2 849.8,3620.1C860.2,3625.9 871.9,3635.1 881,3643.5C890.1,3651.9 897.2,3659.8 904.4,3670.8C911.6,3681.9 917.5,3696.8 924,3709.8C930.5,3722.8 936.4,3734.6 943.5,3748.9C950.6,3763.2 963,3787.9 966.9,3795.7L990.3,3819.1L1002,3819.1L1029.4,3807.4"/>
<path d="M953.2,3624C954.2,3627.2 956.8,3634.4 959.1,3643.5C961.4,3652.6 964.3,3668.8 966.9,3678.6C969.5,3688.3 970.2,3691.6 974.7,3702C979.2,3712.4 986.4,3725.2 994.2,3741.1C1002,3757 1017,3788.3 1021.5,3797.7"/>
<path d="M939.6,3604.4 L947.4,3625.9 L957.1,3614.2"/>
<path d="M1076.2,3432.7C1075.9,3434.6 1072.6,3439.8 1074.2,3444.4C1075.8,3449 1083.4,3451.5 1086,3460C1088.6,3468.5 1089.1,3480.2 1089.9,3495.2C1090.7,3510.2 1088.7,3534.2 1091,3549.8C1093.3,3565.4 1100.8,3577.7 1103.5,3588.8C1106.2,3599.9 1107.7,3603.8 1107.4,3616.2C1107.1,3628.6 1103.2,3648.7 1101.6,3663C1100,3677.3 1101.3,3690.9 1097.7,3702C1094.1,3713.1 1087.6,3717 1080.1,3729.4C1072.6,3741.8 1061.2,3763.2 1052.8,3776.2C1044.3,3789.2 1033.3,3802.2 1029.4,3807.4"/>
<path d="M1027.4,3460C1028.7,3463.2 1032,3470.4 1035.2,3479.5C1038.5,3488.6 1045,3508.8 1046.9,3514.7"/>
<path d="M1080.1,3460C1074.6,3469.1 1058.6,3497.1 1046.9,3514.7C1035.2,3532.3 1024.8,3548.8 1009.8,3565.4C994.8,3582 965.9,3606.1 957.1,3614.2"/>
<path d="M1089.9,3551.8C1085,3559.9 1072,3584.6 1060.6,3600.5C1049.2,3616.4 1035.5,3633.7 1021.5,3647.4C1007.5,3661.1 984.2,3676.7 976.7,3682.5"/>
<path d="M927.4,3530.4 L943.4,3514.4 L945.4,3521.4 L962.4,3517.4 L965.4,3530.4 L950.4,3535.4 L953.4,3541.4 L933.4,3542.4Z" style="stroke-width:3.4"/><path class="n" d="M935.2,3530.9 L945.2,3521 L946.4,3525.3 L956.9,3522.8 L958.8,3530.9 L949.5,3534 L951.4,3537.7 L939,3538.3Z"/>
<path d="M646.4,3688.5 L662.4,3672.5 L664.4,3679.5 L681.4,3675.5 L684.4,3688.5 L669.4,3693.5 L672.4,3699.5 L652.4,3700.5Z" style="stroke-width:3.4"/><path class="n" d="M654.2,3689 L664.2,3679.1 L665.4,3683.4 L675.9,3680.9 L677.8,3689 L668.5,3692.1 L670.4,3695.8 L658,3696.4Z"/>
<path d="M472,3775.3L493.2,3800L640,3956L650,3961L678,3953.8"/>
<path d="M481.4,3776.4 L524,3758.7"/>
<path d="M524,3751.6 L531,3754 L538.2,3768.2 L613.9,3768.2"/>
<path d="M613.9,3768.2C625.2,3766.9 661.5,3764.5 682,3760.6C702.5,3756.7 725.6,3748.4 736.6,3745C747.6,3741.6 746.3,3741.1 748.3,3740.3"/>
<path d="M748.3,3740.3C748.6,3742.4 750.4,3742.3 750.3,3752.8C750.2,3763.3 746.5,3791.1 747.5,3803.5C748.5,3815.9 754.7,3823.1 756.1,3827"/>
<path d="M756.1,3827 L801,3928.4 L801,3940 L775.6,3950 L767.8,3944 L678,3953.8"/>
<path d="M583,3713.8C583.2,3715.4 581.8,3718 584.3,3723.2C586.8,3728.4 593.1,3737.5 598,3745C602.9,3752.5 611.2,3764.3 613.9,3768.2"/>
<path d="M554.7,3775.3C555.3,3779.4 556.6,3791.7 558.3,3800C560,3808.3 561.4,3816.7 565,3825C568.6,3833.3 570.8,3837.5 580,3850C589.2,3862.5 606.7,3885.8 620,3900C633.3,3914.2 647.5,3927.5 660,3935C672.5,3942.5 689.2,3943.3 695,3945"/>
<path d="M578,3848C591.7,3846.3 632.3,3842.8 660,3838C687.7,3833.2 730.3,3822.2 744.4,3819.1"/>
<path d="M575,3915 L612,3899"/></g>
<g id="10_meter"><path class="w" d="M693.3,3505.2C693.3,3520.2 692.2,3535.4 690,3550.3C687.8,3565.1 684.5,3579.9 680.2,3594.1C675.9,3608.3 670.4,3622.3 664,3635.4C657.7,3648.5 650.2,3661.1 641.9,3672.7C633.6,3684.3 624.3,3695.2 614.3,3704.8C604.3,3714.5 593.4,3723.2 581.9,3730.6C570.4,3738 558.1,3744.2 545.4,3749.1C532.8,3753.9 519.4,3757.5 505.9,3759.6C492.4,3761.7 478.4,3762.4 464.4,3761.7C450.5,3761 436.2,3758.9 422.3,3755.4C408.3,3751.9 394.2,3747 380.7,3740.9C367.1,3734.7 353.7,3727.2 341,3718.6C328.4,3710 316,3700.1 304.7,3689.4C293.3,3678.7 282.5,3666.8 272.9,3654.3C263.3,3641.9 254.4,3628.4 246.9,3614.6C239.3,3600.8 232.7,3586.2 227.5,3571.5C222.3,3556.9 218.3,3541.7 215.6,3526.6C213,3511.6 211.6,3496.2 211.6,3481.2C211.6,3466.3 213,3451.3 215.6,3436.9C218.3,3422.4 222.3,3408.2 227.5,3394.7C232.7,3381.3 239.3,3368.2 246.9,3356.1C254.4,3344 263.3,3332.5 272.9,3322C282.5,3311.6 293.3,3301.9 304.7,3293.4C316,3284.9 328.4,3277.3 341,3270.9C353.7,3264.5 367.1,3259.2 380.7,3255.1C394.2,3251 408.3,3248 422.3,3246.3C436.2,3244.6 450.5,3244.1 464.4,3244.8C478.4,3245.5 492.4,3247.4 505.9,3250.5C519.4,3253.6 532.8,3257.9 545.4,3263.3C558.1,3268.7 570.4,3275.3 581.9,3282.9C593.4,3290.5 604.3,3299.2 614.3,3308.8C624.3,3318.4 633.6,3329.1 641.9,3340.4C650.2,3351.8 657.7,3364.1 664,3376.9C670.4,3389.7 675.9,3403.4 680.2,3417.3C684.5,3431.2 687.8,3445.8 690,3460.5C692.2,3475.1 693.3,3490.3 693.3,3505.2Z" style="stroke:none"/>
<path d="M352,3244.5C347,3246.8 331.4,3252.4 322,3258C312.6,3263.6 304.6,3269.3 295.6,3278C286.6,3286.7 275.9,3299.3 268,3310C260.1,3320.7 254.5,3330.6 248.3,3341.9C242.1,3353.2 235.7,3366.2 231,3378C226.3,3389.8 222.9,3401.7 219.9,3412.9C216.9,3424.1 214.2,3437.3 213,3445C211.8,3452.7 212.7,3449 212.6,3458.8C212.5,3468.7 211.3,3488.8 212.6,3503.9C213.9,3519 216.7,3534.3 220.6,3549.2C224.6,3564.1 229.9,3579.1 236.3,3593.4C242.7,3607.7 250.5,3621.8 259.1,3635C267.7,3648.2 277.6,3660.9 288.1,3672.5C298.7,3684.2 310.3,3695.1 322.4,3704.8C334.4,3714.5 347.4,3723.3 360.5,3730.6C373.7,3738 387.5,3744.3 401.3,3749.1C415.1,3754 429.4,3757.5 443.4,3759.6C457.4,3761.7 471.6,3762.4 485.4,3761.7C499.1,3761 512.9,3758.8 526,3755.4C539.1,3751.9 552,3746.9 564.1,3740.8C576.2,3734.7 587.9,3727.1 598.6,3718.6C609.4,3710 619.6,3700.2 628.8,3689.5C637.9,3678.8 646.3,3667 653.7,3654.6C661,3642.2 667.5,3628.8 672.9,3615.1C678.2,3601.4 682.6,3587 685.9,3572.4C689.2,3557.9 691.6,3542.8 692.5,3527.8C693.3,3512.9 692.8,3497.6 691,3482.8C689.3,3467.9 685.8,3453 681.8,3438.6C677.7,3424.3 672.5,3410.1 666.5,3396.7C660.5,3383.3 653.6,3370.2 645.9,3358.1C638.3,3346 629.8,3334.4 620.6,3324C611.5,3313.5 601.5,3303.9 591.1,3295.4C580.7,3286.8 569.7,3279.1 558.4,3272.6C547.2,3266.1 535.4,3260.6 523.6,3256.3C511.8,3252 499.7,3248.7 487.7,3246.9C475.8,3245 463.6,3244.5 451.9,3245.4C440.2,3246.2 428.4,3248.5 417.3,3251.9C406.2,3255.2 395.3,3259.8 385.1,3265.4C374.9,3271 365.2,3277.8 356.3,3285.5C347.5,3293.2 339.2,3302.1 331.9,3311.7C324.7,3321.3 318.2,3332 312.7,3343.2C307.3,3354.4 302.8,3366.5 299.3,3379.1C295.9,3391.6 293.4,3404.8 292,3418.2C290.6,3431.6 290.7,3445.6 291,3459.5C291.2,3473.4 292.2,3487.6 293.7,3501.6C295.3,3515.5 297.1,3529.6 300.1,3543.2C303.2,3556.8 307.2,3570.2 312.1,3583C316.9,3595.7 322.7,3608.2 329.1,3619.7C335.6,3631.3 342.9,3642.3 350.6,3652.2C358.4,3662.2 366.9,3671.5 375.7,3679.6C384.5,3687.7 394,3695 403.6,3701C413.1,3707.1 423.2,3712.1 433.2,3715.9C443.3,3719.7 453.6,3722.1 463.7,3723.8C473.9,3725.4 484.2,3726 494.1,3725.5C504.1,3725.1 514,3723.8 523.4,3721.2C532.9,3718.6 542.1,3714.8 550.8,3709.9C559.5,3705 567.9,3698.9 575.6,3692C583.3,3685 590.5,3676.9 597,3668.1C603.6,3659.3 609.5,3649.4 614.7,3639C619.8,3628.6 624.3,3617.3 628,3605.6C631.8,3594 634.7,3581.6 636.9,3569.1C639,3556.6 640.4,3543.5 641,3530.5C641.6,3517.5 641.3,3504.1 640.3,3491.1C639.3,3478 637.4,3464.7 634.8,3452C632.2,3439.2 628.8,3426.5 624.7,3414.4C620.5,3402.3 615.6,3390.5 610.1,3379.5C604.5,3368.4 598.2,3357.8 591.4,3348.1C584.5,3338.5 577,3329.4 569,3321.3C561.1,3313.3 547.8,3303.4 543.6,3299.8"/>
<path d="M437.5,3244C430.4,3244.8 408.8,3246.3 395,3249C381.2,3251.7 366.2,3256 354.7,3260.3C343.2,3264.6 334.7,3269.7 326,3275C317.3,3280.3 310.4,3285.3 302.7,3292.3C295,3299.3 286.7,3308.7 280,3317C273.3,3325.3 268.2,3331.9 262.5,3341.9C256.8,3351.9 250.7,3365.2 246,3377C241.3,3388.8 237.2,3401.6 234.1,3412.9C231,3424.2 228.8,3436.8 227.5,3445C226.2,3453.2 226.5,3452.2 226.3,3462.3C226.1,3472.3 225,3490.9 226.3,3505.3C227.5,3519.7 230.1,3534.4 233.9,3548.6C237.7,3562.9 242.8,3577.2 248.9,3590.9C255,3604.6 262.4,3618.1 270.6,3630.7C278.8,3643.3 288.2,3655.6 298.3,3666.7C308.3,3677.9 319.4,3688.4 330.9,3697.7C342.4,3707 354.7,3715.4 367.2,3722.5C379.7,3729.6 392.9,3735.7 406,3740.3C419.1,3745 432.7,3748.4 446,3750.4C459.3,3752.5 472.8,3753.2 485.8,3752.5C498.9,3751.9 511.9,3749.8 524.4,3746.5C536.8,3743.2 549,3738.5 560.5,3732.7C572,3726.8 583,3719.6 593.2,3711.5C603.4,3703.3 613,3693.9 621.7,3683.7C630.4,3673.5 638.3,3662.2 645.3,3650.4C652.2,3638.5 658.3,3625.7 663.4,3612.6C668.5,3599.5 672.6,3585.7 675.7,3571.8C678.8,3557.9 681.1,3543.5 681.9,3529.2C682.7,3514.9 682.2,3500.4 680.5,3486.2C678.8,3472 675.5,3457.7 671.6,3444C667.7,3430.3 662.7,3416.8 657.1,3404C651.4,3391.2 644.8,3378.7 637.5,3367.2C630.3,3355.6 622.3,3344.6 613.6,3334.6C605,3324.6 595.5,3315.4 585.8,3307.3C576,3299.1 565.6,3291.8 555,3285.5C544.4,3279.3 533.3,3274 522.2,3269.9C511.1,3265.8 499.7,3262.6 488.5,3260.8C477.3,3259 465.9,3258.4 454.9,3259C443.9,3259.6 432.9,3261.6 422.5,3264.5C412.1,3267.4 401.9,3271.6 392.4,3276.7C383,3281.8 373.9,3288.1 365.6,3295.2C357.4,3302.4 349.8,3310.6 343,3319.6C336.3,3328.5 330.3,3338.5 325.3,3349C320.4,3359.6 316.2,3371 313.1,3382.8C310,3394.5 307.8,3407 306.7,3419.7C305.5,3432.4 305.7,3445.6 306.1,3458.8C306.4,3471.9 307.4,3485.4 308.9,3498.7C310.4,3511.9 312,3525.3 314.9,3538.2C317.7,3551 321.5,3563.9 326.1,3576C330.6,3588.1 336,3600 342,3610.9C348,3621.9 354.8,3632.4 362,3641.9C369.3,3651.4 377.2,3660.2 385.4,3667.9C393.6,3675.7 402.4,3682.6 411.3,3688.3C420.2,3694 429.5,3698.8 438.8,3702.3C448.1,3705.9 457.7,3708.2 467.1,3709.7C476.5,3711.2 486,3711.8 495.2,3711.3C504.4,3710.9 513.6,3709.7 522.3,3707.3C531.1,3704.8 539.6,3701.1 547.6,3696.4C555.6,3691.8 563.3,3685.9 570.4,3679.2C577.5,3672.5 584.2,3664.7 590.1,3656.2C596.1,3647.7 601.6,3638.3 606.3,3628.2C611,3618.2 615.2,3607.3 618.6,3596.1C621.9,3584.9 624.7,3572.9 626.6,3560.9C628.6,3548.8 629.8,3536.2 630.3,3523.7C630.8,3511.1 630.6,3498.3 629.6,3485.7C628.7,3473 627,3460.3 624.6,3448C622.1,3435.7 619,3423.4 615.2,3411.7C611.4,3400.1 606.8,3388.7 601.7,3378C596.6,3367.4 590.8,3357.1 584.5,3347.8C578.2,3338.4 571.2,3329.7 563.9,3321.9C556.5,3314.1 548.6,3307.1 540.4,3301.1C532.2,3295.1 521.1,3289.3 514.6,3285.9C508.1,3282.5 503.3,3281.4 501.1,3280.6"/>
<path class="w" d="M613.8,3506.4C614.2,3517.8 614,3529.2 613.2,3540.2C612.3,3551.2 610.7,3562.1 608.5,3572.4C606.3,3582.7 603.5,3592.8 600,3602.1C596.5,3611.4 592.4,3620.3 587.7,3628.3C583,3636.3 577.6,3643.7 571.8,3650.2C566,3656.8 559.6,3662.5 552.8,3667.3C546,3672.1 538.7,3676 531.1,3678.9C523.5,3681.8 515.5,3683.8 507.3,3684.7C499.1,3685.7 490.6,3685.6 482,3684.6C473.4,3683.5 464.6,3681.5 456,3678.5C447.3,3675.5 438.5,3671.5 430,3666.6C421.5,3661.7 413.1,3655.9 405,3649.3C397,3642.7 389.1,3635.2 381.8,3627.1C374.5,3619 367.5,3610.1 361.2,3600.7C354.9,3591.3 349.1,3581.3 344,3570.9C338.9,3560.5 334.5,3549.6 330.8,3538.6C327.1,3527.6 324.2,3516.1 322.1,3504.7C320,3493.4 318.7,3481.8 318.2,3470.4C317.8,3459 318.1,3447.6 319.3,3436.6C320.5,3425.6 322.5,3414.7 325.3,3404.4C328.1,3394.1 331.7,3384 336,3374.7C340.3,3365.4 345.4,3356.5 351,3348.5C356.5,3340.5 362.9,3333.1 369.6,3326.6C376.3,3320 383.6,3314.3 391.2,3309.5C398.8,3304.7 406.8,3300.8 415,3297.9C423.2,3295 431.7,3293 440.2,3292.1C448.7,3291.1 457.4,3291.2 466,3292.2C474.6,3293.3 483.2,3295.3 491.5,3298.3C499.9,3301.3 508.2,3305.3 516.1,3310.2C524,3315.1 531.7,3320.9 539,3327.5C546.2,3334.1 553.2,3341.6 559.6,3349.7C566,3357.8 572,3366.7 577.4,3376.1C582.8,3385.5 587.7,3395.5 592,3405.9C596.3,3416.3 600,3427.2 603.1,3438.2C606.1,3449.2 608.6,3460.7 610.4,3472.1C612.2,3483.4 613.3,3495 613.8,3506.4Z"/>
<ellipse cx="439.2" cy="3494.5" rx="31" ry="37.5" transform="rotate(0 439.2 3494.5)" class="w"/>
<path d="M421,3521.5 L367.8,3615.5"/>
<path d="M435.5,3528 L375.5,3621"/>
<path d="M428,3524 L371,3618.5" style="stroke-width:4"/>
<ellipse cx="454.5" cy="3495.7" rx="31.3" ry="37.8" transform="rotate(0 454.5 3495.7)" class="w"/>
<ellipse cx="459.3" cy="3493.8" rx="19.5" ry="24.2" transform="rotate(0 459.3 3493.8)"/>
<ellipse cx="390.2" cy="3527.6" rx="11.7" ry="13" transform="rotate(0 390.2 3527.6)" class="w"/>
<ellipse cx="391.2" cy="3527.6" rx="7.5" ry="8.3" transform="rotate(0 391.2 3527.6)" class="n"/>
<path d="M388.2,3524.6l6,6M388.2,3530.6l6,-6" style="stroke-width:3.4"/>
<ellipse cx="488.4" cy="3472" rx="9.5" ry="10.6" transform="rotate(0 488.4 3472)" class="w"/>
<ellipse cx="489.4" cy="3472" rx="6.3" ry="7" transform="rotate(0 489.4 3472)" class="n"/>
<path d="M486.4,3469l6,6M486.4,3475l6,-6" style="stroke-width:3.4"/>
<path d="M403.2,3310 L406.8,3322.4" style="stroke-width:4.6;stroke-linecap:butt"/>
<path d="M430.6,3295.8 L430.6,3318.9" style="stroke-width:4.6;stroke-linecap:butt"/>
<path d="M456.5,3294 L455.8,3326" style="stroke-width:4.6;stroke-linecap:butt"/>
<path d="M486.6,3306.5 L479.5,3333" style="stroke-width:4.6;stroke-linecap:butt"/>
<path d="M516.8,3311.8 L502.6,3349" style="stroke-width:4.6;stroke-linecap:butt"/>
<path d="M538,3340.2 L523.9,3365" style="stroke-width:4.6;stroke-linecap:butt"/>
<path d="M562.9,3368.6 L541.6,3389.9" style="stroke-width:4.6;stroke-linecap:butt"/>
<path d="M580.7,3397 L559.4,3412.9" style="stroke-width:4.6;stroke-linecap:butt"/>
<path d="M594.9,3428.9 L570,3441.3" style="stroke-width:4.6;stroke-linecap:butt"/>
<path d="M607.3,3463.3 L580.7,3468.6" style="stroke-width:4.6;stroke-linecap:butt"/>
<path d="M612.6,3499.1 L582.4,3499.1" style="stroke-width:4.6;stroke-linecap:butt"/>
<path class="n" d="M456.5,3294 L467,3302 L485,3300.5 L498,3309 L516.8,3311.8"/>
<path class="n" d="M519,3312 L540,3327 L536,3339 L517,3325"/>
<path d="M417,3645 L422,3639 L427,3640 L430,3636 L441,3634 L446,3640 L447,3650 L443,3657 L436,3659 L431,3665 L422,3664 L417,3656Z" style="stroke-width:3.6"/>
<ellipse cx="477.8" cy="3651" rx="11.5" ry="13.5" transform="rotate(10 477.8 3651)" class="k"/>
<path d="M476,3647a5,6 0 1,0 8,2" style="stroke:#fff;stroke-width:1.6"/>
<path d="M513,3611 L532,3628 L514,3639Z" style="stroke-width:3.4"/>
<path class="n" d="M521,3622 L525,3628 L519,3631Z"/>
<path class="k" d="M534,3580 L560,3568 L566,3582 L541,3595Z"/>
<path d="M545,3583 L540,3590" style="stroke:#fff;stroke-width:2"/>
<path d="M577,3648 L602,3577" style="stroke-width:5;stroke-dasharray:5 3;stroke-linecap:butt"/>
<path d="M551,3671C551.5,3669.2 552,3663.2 554,3660C556,3656.8 559.7,3653.5 563,3652C566.3,3650.5 572.2,3651.2 574,3651"/>
<path class="w" d="M1208.5,3209.2C1208.5,3224.2 1207.4,3239.4 1205.2,3254.3C1203,3269.1 1199.7,3283.9 1195.4,3298.1C1191.1,3312.3 1185.6,3326.3 1179.2,3339.4C1172.9,3352.5 1165.4,3365.1 1157.1,3376.7C1148.8,3388.3 1139.5,3399.2 1129.5,3408.8C1119.5,3418.5 1108.6,3427.2 1097.1,3434.6C1085.6,3442 1073.3,3448.2 1060.6,3453.1C1048,3457.9 1034.6,3461.5 1021.1,3463.6C1007.6,3465.7 993.6,3466.4 979.7,3465.7C965.7,3465 951.4,3462.9 937.5,3459.4C923.5,3455.9 909.4,3451 895.9,3444.9C882.3,3438.7 868.9,3431.2 856.2,3422.6C843.6,3414 831.2,3404.1 819.9,3393.4C808.5,3382.7 797.7,3370.8 788.1,3358.3C778.5,3345.9 769.6,3332.4 762.1,3318.6C754.5,3304.8 747.9,3290.2 742.7,3275.5C737.5,3260.9 733.5,3245.7 730.8,3230.6C728.2,3215.6 726.8,3200.2 726.8,3185.2C726.8,3170.3 728.2,3155.3 730.8,3140.9C733.5,3126.4 737.5,3112.2 742.7,3098.7C747.9,3085.3 754.5,3072.2 762.1,3060.1C769.6,3048 778.5,3036.5 788.1,3026C797.7,3015.6 808.5,3005.9 819.9,2997.4C831.2,2988.9 843.6,2981.3 856.2,2974.9C868.9,2968.5 882.3,2963.2 895.9,2959.1C909.4,2955 923.5,2952 937.5,2950.3C951.4,2948.6 965.7,2948.1 979.6,2948.8C993.6,2949.5 1007.6,2951.4 1021.1,2954.5C1034.6,2957.6 1048,2961.9 1060.6,2967.3C1073.3,2972.7 1085.6,2979.3 1097.1,2986.9C1108.6,2994.5 1119.5,3003.2 1129.5,3012.8C1139.5,3022.4 1148.8,3033.1 1157.1,3044.4C1165.4,3055.8 1172.9,3068.1 1179.2,3080.9C1185.6,3093.7 1191.1,3107.4 1195.4,3121.3C1199.7,3135.2 1203,3149.8 1205.2,3164.5C1207.4,3179.1 1208.5,3194.3 1208.5,3209.2Z" style="stroke:none"/>
<path d="M867.2,2948.5C862.2,2950.8 846.6,2956.4 837.2,2962C827.8,2967.6 819.8,2973.3 810.8,2982C801.8,2990.7 791.1,3003.3 783.2,3014C775.3,3024.7 769.7,3034.6 763.5,3045.9C757.3,3057.2 750.9,3070.2 746.2,3082C741.5,3093.8 738.1,3105.7 735.1,3116.9C732.1,3128.1 729.4,3141.3 728.2,3149C727,3156.7 727.9,3153 727.8,3162.8C727.7,3172.7 726.5,3192.8 727.8,3207.9C729.1,3223 731.9,3238.3 735.8,3253.2C739.8,3268.1 745.1,3283.1 751.5,3297.4C757.9,3311.7 765.7,3325.8 774.3,3339C782.9,3352.2 792.8,3364.9 803.3,3376.5C813.9,3388.2 825.5,3399.1 837.6,3408.8C849.6,3418.5 862.6,3427.3 875.7,3434.6C888.9,3442 902.7,3448.3 916.5,3453.1C930.3,3458 944.6,3461.5 958.6,3463.6C972.6,3465.7 986.8,3466.4 1000.6,3465.7C1014.3,3465 1028.1,3462.8 1041.2,3459.4C1054.3,3455.9 1067.2,3450.9 1079.3,3444.8C1091.4,3438.7 1103.1,3431.1 1113.8,3422.6C1124.6,3414 1134.8,3404.2 1144,3393.5C1153.1,3382.8 1161.5,3371 1168.9,3358.6C1176.2,3346.2 1182.7,3332.8 1188.1,3319.1C1193.4,3305.4 1197.8,3291 1201.1,3276.4C1204.4,3261.9 1206.8,3246.8 1207.7,3231.8C1208.5,3216.9 1208,3201.6 1206.2,3186.8C1204.5,3171.9 1201,3157 1197,3142.6C1192.9,3128.3 1187.7,3114.1 1181.7,3100.7C1175.7,3087.3 1168.8,3074.2 1161.1,3062.1C1153.5,3050 1145,3038.4 1135.8,3028C1126.7,3017.5 1116.7,3007.9 1106.3,2999.4C1095.9,2990.8 1084.9,2983.1 1073.6,2976.6C1062.4,2970.1 1050.6,2964.6 1038.8,2960.3C1027,2956 1014.9,2952.7 1002.9,2950.9C991,2949 978.8,2948.5 967.1,2949.4C955.4,2950.2 943.6,2952.5 932.5,2955.9C921.4,2959.2 910.5,2963.8 900.3,2969.4C890.1,2975 880.4,2981.8 871.5,2989.5C862.7,2997.2 854.4,3006.1 847.1,3015.7C839.9,3025.3 833.4,3036 827.9,3047.2C822.5,3058.4 818,3070.5 814.5,3083.1C811.1,3095.6 808.6,3108.8 807.2,3122.2C805.8,3135.6 805.9,3149.6 806.2,3163.5C806.4,3177.4 807.4,3191.6 808.9,3205.6C810.5,3219.5 812.3,3233.6 815.3,3247.2C818.4,3260.8 822.4,3274.2 827.3,3287C832.1,3299.7 837.9,3312.2 844.3,3323.7C850.8,3335.3 858.1,3346.3 865.8,3356.2C873.6,3366.2 882.1,3375.5 890.9,3383.6C899.7,3391.7 909.2,3399 918.8,3405C928.3,3411.1 938.4,3416.1 948.4,3419.9C958.5,3423.7 968.8,3426.1 978.9,3427.8C989.1,3429.4 999.4,3430 1009.3,3429.5C1019.3,3429.1 1029.2,3427.8 1038.6,3425.2C1048.1,3422.6 1057.3,3418.8 1066,3413.9C1074.7,3409 1083.1,3402.9 1090.8,3396C1098.5,3389 1105.7,3380.9 1112.2,3372.1C1118.8,3363.3 1124.7,3353.4 1129.9,3343C1135,3332.6 1139.5,3321.3 1143.2,3309.6C1147,3298 1149.9,3285.6 1152.1,3273.1C1154.2,3260.6 1155.6,3247.5 1156.2,3234.5C1156.8,3221.5 1156.5,3208.1 1155.5,3195.1C1154.5,3182 1152.6,3168.7 1150,3156C1147.4,3143.2 1144,3130.5 1139.9,3118.4C1135.7,3106.3 1130.8,3094.5 1125.3,3083.5C1119.7,3072.4 1113.4,3061.8 1106.6,3052.1C1099.7,3042.5 1092.2,3033.4 1084.2,3025.3C1076.3,3017.3 1063,3007.4 1058.8,3003.8"/>
<path d="M952.7,2948C945.6,2948.8 924,2950.3 910.2,2953C896.4,2955.7 881.4,2960 869.9,2964.3C858.4,2968.6 849.9,2973.7 841.2,2979C832.5,2984.3 825.6,2989.3 817.9,2996.3C810.2,3003.3 801.9,3012.7 795.2,3021C788.5,3029.3 783.4,3035.9 777.7,3045.9C772,3055.9 765.9,3069.2 761.2,3081C756.5,3092.8 752.4,3105.6 749.3,3116.9C746.2,3128.2 744,3140.8 742.7,3149C741.4,3157.2 741.7,3156.2 741.5,3166.3C741.3,3176.3 740.2,3194.9 741.5,3209.3C742.7,3223.7 745.3,3238.4 749.1,3252.6C752.9,3266.9 758,3281.2 764.1,3294.9C770.2,3308.6 777.6,3322.1 785.8,3334.7C794,3347.3 803.4,3359.6 813.5,3370.7C823.5,3381.9 834.6,3392.4 846.1,3401.7C857.6,3411 869.9,3419.4 882.4,3426.5C894.9,3433.6 908.1,3439.7 921.2,3444.3C934.3,3449 947.9,3452.4 961.2,3454.4C974.5,3456.5 988,3457.2 1001,3456.5C1014.1,3455.9 1027.1,3453.8 1039.6,3450.5C1052,3447.2 1064.2,3442.5 1075.7,3436.7C1087.2,3430.8 1098.2,3423.6 1108.4,3415.5C1118.6,3407.3 1128.2,3397.9 1136.9,3387.7C1145.6,3377.5 1153.5,3366.2 1160.5,3354.4C1167.4,3342.5 1173.5,3329.7 1178.6,3316.6C1183.7,3303.5 1187.8,3289.7 1190.9,3275.8C1194,3261.9 1196.3,3247.5 1197.1,3233.2C1197.9,3218.9 1197.4,3204.4 1195.7,3190.2C1194,3176 1190.7,3161.7 1186.8,3148C1182.9,3134.3 1177.9,3120.8 1172.3,3108C1166.6,3095.2 1160,3082.7 1152.7,3071.2C1145.5,3059.6 1137.5,3048.6 1128.8,3038.6C1120.2,3028.6 1110.7,3019.4 1101,3011.3C1091.2,3003.1 1080.8,2995.8 1070.2,2989.5C1059.6,2983.3 1048.5,2978 1037.4,2973.9C1026.3,2969.8 1014.9,2966.6 1003.7,2964.8C992.5,2963 981.1,2962.4 970.1,2963C959.1,2963.6 948.1,2965.6 937.7,2968.5C927.3,2971.4 917.1,2975.6 907.6,2980.7C898.2,2985.8 889.1,2992.1 880.8,2999.2C872.6,3006.4 865,3014.6 858.2,3023.6C851.5,3032.5 845.5,3042.5 840.5,3053C835.6,3063.6 831.4,3075 828.3,3086.8C825.2,3098.5 823,3111 821.9,3123.7C820.7,3136.4 820.9,3149.6 821.3,3162.8C821.6,3175.9 822.6,3189.4 824.1,3202.7C825.6,3215.9 827.2,3229.3 830.1,3242.2C832.9,3255 836.7,3267.9 841.3,3280C845.8,3292.1 851.2,3304 857.2,3314.9C863.2,3325.9 870,3336.4 877.2,3345.9C884.5,3355.4 892.4,3364.2 900.6,3371.9C908.8,3379.7 917.6,3386.6 926.5,3392.3C935.4,3398 944.7,3402.8 954,3406.3C963.3,3409.9 972.9,3412.2 982.3,3413.7C991.7,3415.2 1001.2,3415.8 1010.4,3415.3C1019.6,3414.9 1028.8,3413.7 1037.5,3411.3C1046.3,3408.8 1054.8,3405.1 1062.8,3400.4C1070.8,3395.8 1078.5,3389.9 1085.6,3383.2C1092.7,3376.5 1099.4,3368.7 1105.3,3360.2C1111.3,3351.7 1116.8,3342.3 1121.5,3332.2C1126.2,3322.2 1130.4,3311.3 1133.8,3300.1C1137.1,3288.9 1139.9,3276.9 1141.8,3264.9C1143.8,3252.8 1145,3240.2 1145.5,3227.7C1146,3215.1 1145.8,3202.3 1144.8,3189.7C1143.9,3177 1142.2,3164.3 1139.8,3152C1137.3,3139.7 1134.2,3127.4 1130.4,3115.7C1126.6,3104.1 1122,3092.7 1116.9,3082C1111.8,3071.4 1106,3061.1 1099.7,3051.8C1093.4,3042.4 1086.4,3033.7 1079.1,3025.9C1071.7,3018.1 1063.8,3011.1 1055.6,3005.1C1047.4,2999.1 1036.3,2993.3 1029.8,2989.9C1023.3,2986.5 1018.5,2985.4 1016.3,2984.6"/>
<path class="w" d="M1129,3210.4C1129.4,3221.8 1129.2,3233.2 1128.4,3244.2C1127.5,3255.2 1125.9,3266.1 1123.7,3276.4C1121.5,3286.7 1118.7,3296.8 1115.2,3306.1C1111.7,3315.4 1107.6,3324.3 1102.9,3332.3C1098.2,3340.3 1092.8,3347.7 1087,3354.2C1081.2,3360.8 1074.8,3366.5 1068,3371.3C1061.2,3376.1 1053.9,3380 1046.3,3382.9C1038.7,3385.8 1030.7,3387.8 1022.5,3388.7C1014.3,3389.7 1005.8,3389.6 997.2,3388.6C988.6,3387.5 979.8,3385.5 971.2,3382.5C962.5,3379.5 953.7,3375.5 945.2,3370.6C936.7,3365.7 928.3,3359.9 920.2,3353.3C912.2,3346.7 904.3,3339.2 897,3331.1C889.7,3323 882.7,3314.1 876.4,3304.7C870.1,3295.3 864.3,3285.3 859.2,3274.9C854.1,3264.5 849.7,3253.6 846,3242.6C842.3,3231.6 839.4,3220.1 837.3,3208.7C835.2,3197.4 833.9,3185.8 833.4,3174.4C833,3163 833.3,3151.6 834.5,3140.6C835.7,3129.6 837.7,3118.7 840.5,3108.4C843.3,3098.1 846.9,3088 851.2,3078.7C855.5,3069.4 860.6,3060.5 866.2,3052.5C871.7,3044.5 878.1,3037.1 884.8,3030.6C891.5,3024 898.8,3018.3 906.4,3013.5C914,3008.7 922,3004.8 930.2,3001.9C938.4,2999 946.9,2997 955.4,2996.1C963.9,2995.1 972.6,2995.2 981.2,2996.2C989.8,2997.3 998.4,2999.3 1006.7,3002.3C1015.1,3005.3 1023.4,3009.3 1031.3,3014.2C1039.2,3019.1 1046.9,3024.9 1054.2,3031.5C1061.4,3038.1 1068.4,3045.6 1074.8,3053.7C1081.2,3061.8 1087.2,3070.7 1092.6,3080.1C1098,3089.5 1102.9,3099.5 1107.2,3109.9C1111.5,3120.3 1115.2,3131.2 1118.3,3142.2C1121.3,3153.2 1123.8,3164.7 1125.6,3176.1C1127.4,3187.4 1128.5,3199 1129,3210.4Z"/>
<ellipse cx="954.4" cy="3198.5" rx="31" ry="37.5" transform="rotate(0 954.4 3198.5)" class="w"/>
<path d="M936.2,3225.5 L883,3319.5"/>
<path d="M950.7,3232 L890.7,3325"/>
<path d="M943.2,3228 L886.2,3322.5" style="stroke-width:4"/>
<ellipse cx="969.7" cy="3199.7" rx="31.3" ry="37.8" transform="rotate(0 969.7 3199.7)" class="w"/>
<ellipse cx="974.5" cy="3197.8" rx="19.5" ry="24.2" transform="rotate(0 974.5 3197.8)"/>
<ellipse cx="905.4" cy="3231.6" rx="11.7" ry="13" transform="rotate(0 905.4 3231.6)" class="w"/>
<ellipse cx="906.4" cy="3231.6" rx="7.5" ry="8.3" transform="rotate(0 906.4 3231.6)" class="n"/>
<path d="M903.4,3228.6l6,6M903.4,3234.6l6,-6" style="stroke-width:3.4"/>
<ellipse cx="1003.6" cy="3176" rx="9.5" ry="10.6" transform="rotate(0 1003.6 3176)" class="w"/>
<ellipse cx="1004.6" cy="3176" rx="6.3" ry="7" transform="rotate(0 1004.6 3176)" class="n"/>
<path d="M1001.6,3173l6,6M1001.6,3179l6,-6" style="stroke-width:3.4"/>
<path d="M916.9,3012.6 L920.2,3027.5" style="stroke-width:4.6;stroke-linecap:butt"/>
<path d="M944.4,3001 L944.4,3022.5" style="stroke-width:4.6;stroke-linecap:butt"/>
<path d="M971.6,2999.3 L969.9,3029.2" style="stroke-width:4.6;stroke-linecap:butt"/>
<path d="M999.7,3007.6 L994.1,3035.8" style="stroke-width:4.6;stroke-linecap:butt"/>
<path d="M1027.9,3015.9 L1014.6,3054" style="stroke-width:4.6;stroke-linecap:butt"/>
<path d="M1051,3042.4 L1037.8,3068.9" style="stroke-width:4.6;stroke-linecap:butt"/>
<path class="n" d="M971.6,2999.3 L978,3006 L991.4,3007.6 L999.7,3006 L1018,3016 L1027.9,3014.3"/>
<path class="n" d="M1031,3014.3 L1054.4,3032.5 L1044.4,3042.4 L1031,3030.8"/>
<path d="M1056,3091.4C1057.9,3093.7 1063.5,3097.5 1067.6,3105.3C1071.7,3113.2 1076.7,3127.4 1080.8,3138.4C1085,3149.5 1089.7,3160.8 1092.4,3171.6C1095.2,3182.3 1096.6,3197.8 1097.4,3203"/>
<path d="M1097.4,3203 L1127.2,3203" style="stroke-width:4"/>
<path d="M1056,3091.4 L1077.5,3072.2" style="stroke-width:4"/>
<path d="M1072.6,3111.9 L1097.4,3098.7" style="stroke-width:9;stroke-linecap:butt"/>
<path d="M1084.2,3145.1 L1110.7,3131.8" style="stroke-width:9;stroke-linecap:butt"/>
<path d="M1095.7,3174.9 L1120.6,3164.9" style="stroke-width:9;stroke-linecap:butt"/>
<path d="M964.9,3370.3 L953.3,3350.4 L976.5,3360.3 L966.6,3342.1" style="stroke-width:4.6;stroke-linejoin:miter"/>
<path class="k" d="M1036.1,3302.4 L1047.7,3295.7 L1059.3,3317.3 L1046.1,3322.2 Z"/>
<path d="M1047.7,3295.7C1049.7,3295.2 1056.1,3291.6 1059.3,3292.4C1062.5,3293.3 1065.8,3297.7 1066.9,3300.7C1068,3303.8 1067.2,3307.9 1065.9,3310.7C1064.7,3313.4 1060.4,3316.2 1059.3,3317.3" style="stroke-width:3.6"/>
<path d="M1064.3,3374.2C1065.1,3372.5 1067,3366.2 1069.3,3363.6C1071.5,3361 1074.5,3360 1077.5,3358.7C1080.6,3357.3 1085.8,3355.9 1087.5,3355.4"/>
<path d="M1208.5,3210.3 L1326,3210.3"/>
<g class="t" style="stroke-width:2.8"><path d="M2,0L2,-40L13,-40C20,-40 23,-36 23,-30C23,-24 20,-20 13,-20L2,-20M13,-20L24,0" transform="translate(1332.6,3230) scale(1.0,1.0)"/><path d="M1,-13L24,-13C24,-21 19,-26 12.5,-26C6,-26 1,-21 1,-13C1,-5 6,0 12.5,0C18,0 22,-3 24,-7" transform="translate(1366,3230) scale(1.0,1.0)"/><path d="M10,0L10,-32C10,-37 13,-40 19,-40M2,-25L18,-25" transform="translate(1399.4,3230) scale(1.0,1.0)"/><path d="M12,-7.6a3,3 0 1,0 0.01,0Z" transform="translate(1432.8,3230) scale(1.0,1.0)" class="k"/><path d="M0,0L0,-40L14,0L28,-40L28,0" transform="translate(1466.2,3230) scale(1.0,1.0)"/><path d="M1,-13L24,-13C24,-21 19,-26 12.5,-26C6,-26 1,-21 1,-13C1,-5 6,0 12.5,0C18,0 22,-3 24,-7" transform="translate(1499.6,3230) scale(1.0,1.0)"/><path d="M10,-38L10,-6C10,-2 12,0 18,0M3,-26L18,-26" transform="translate(1533,3230) scale(1.0,1.0)"/><path d="M1,-13L24,-13C24,-21 19,-26 12.5,-26C6,-26 1,-21 1,-13C1,-5 6,0 12.5,0C18,0 22,-3 24,-7" transform="translate(1566.4,3230) scale(1.0,1.0)"/><path d="M9,0L9,-26M9,-17C11,-23 15,-26 22,-26" transform="translate(1599.8,3230) scale(1.0,1.0)"/><path d="M18,-43C12,-35 10,-27 10,-19C10,-10 12,-2 18,7" transform="translate(1633.2,3230) scale(1.0,1.0)"/><path d="M22,-21C21,-24 17,-26 12,-26C6,-26 3,-23 3,-19.5C3,-16 6,-14.5 12,-13C19,-11.5 22,-10 22,-6.5C22,-2.5 18,0 12,0C6,0 2,-2.5 1,-6" transform="translate(1666.6,3230) scale(1.0,1.0)"/><path d="M6,-43C12,-35 14,-27 14,-19C14,-10 12,-2 6,7" transform="translate(1700,3230) scale(1.0,1.0)"/></g>
<path d="M729,3139 L727.3,3156 L727.5,3170" style="stroke:#fff;stroke-width:6;stroke-linecap:butt"/>
<path d="M665.1,3155.7C674.2,3154.6 709.1,3150.9 719.5,3148.9C729.9,3146.9 725.9,3146 727.7,3143.5C729.5,3141 730,3135.6 730.4,3134"/>
<path d="M716.8,3173.4C718.6,3173.2 725.2,3171.4 727.7,3172C730.2,3172.6 731,3174.8 732,3177C733,3179.2 733.2,3183.7 733.5,3185"/></g>
<g id="11_plate"><path class="w" d="M1145,3842.5L1152,3862L1160,3866C1170.8,3865.7 1205,3865.5 1225,3864C1245,3862.5 1260.5,3860.8 1280,3857C1299.5,3853.2 1331.7,3843.7 1342,3841C1341.8,3837.5 1340.5,3830.2 1341,3820C1341.5,3809.8 1341.8,3793.3 1345,3780C1348.2,3766.7 1353.3,3752.2 1360,3740C1366.7,3727.8 1375,3716.2 1385,3707C1395,3697.8 1408.3,3690.5 1420,3685C1431.7,3679.5 1443.3,3675.3 1455,3674C1466.7,3672.7 1479.2,3674.3 1490,3677C1500.8,3679.7 1510.8,3685 1520,3690C1529.2,3695 1538.8,3702.8 1545,3707C1551.2,3711.2 1555,3713.7 1557,3715C1564.2,3707.8 1585.3,3688.7 1600,3672C1614.7,3655.3 1631.5,3633.3 1645,3615C1658.5,3596.7 1675,3570.8 1681,3562L1675,3542L1670,3540C1662.5,3542.8 1640.8,3552.8 1625,3557C1609.2,3561.2 1590.8,3564.5 1575,3565C1559.2,3565.5 1542.5,3562.7 1530,3560C1517.5,3557.3 1505,3550.8 1500,3549L1492,3560L1477,3585L1292,3691L1250,3692C1248.3,3697.5 1245,3712 1240,3725C1235,3738 1228.3,3756.3 1220,3770C1211.7,3783.7 1202.5,3794.9 1190,3807C1177.5,3819.1 1152.5,3836.6 1145,3842.5Z"/>
<path d="M1274,3751.5 L1280,3751 L1301,3797 L1284,3809 L1255,3792 L1260,3762Z"/>
<path d="M1545,3597 L1575,3610 L1567,3645 L1550,3654 L1527,3610 L1533,3602Z"/>
<text x="0" y="0" transform="translate(1336,3709) rotate(-23.5) skewX(-12)" style="font-family:'Liberation Sans',sans-serif;font-weight:bold;font-size:33px;fill:#fff;stroke:#000;stroke-width:2.8;letter-spacing:-1.5px">Kawasaki</text>
<path d="M1311,3851 L1311,3967"/>
<g class="t" style="stroke-width:2.8"><path d="M23,-27C23,-19 18,-15 12,-15C6,-15 1,-20 1,-27C1,-35 6,-40 12,-40C18,-40 23,-35 23,-27C23,-12 20,0 11,0C5,0 2,-2 2,-7" transform="translate(1199,4023) scale(1.0,1.0)"/><path d="M23,-27C23,-19 18,-15 12,-15C6,-15 1,-20 1,-27C1,-35 6,-40 12,-40C18,-40 23,-35 23,-27C23,-12 20,0 11,0C5,0 2,-2 2,-7" transform="translate(1232.4,4023) scale(1.0,1.0)"/><path d="M23,-27C23,-19 18,-15 12,-15C6,-15 1,-20 1,-27C1,-35 6,-40 12,-40C18,-40 23,-35 23,-27C23,-12 20,0 11,0C5,0 2,-2 2,-7" transform="translate(1265.8,4023) scale(1.0,1.0)"/><path d="M23,-27C23,-19 18,-15 12,-15C6,-15 1,-20 1,-27C1,-35 6,-40 12,-40C18,-40 23,-35 23,-27C23,-12 20,0 11,0C5,0 2,-2 2,-7" transform="translate(1299.2,4023) scale(1.0,1.0)"/><path d="M18,0L18,-40L0,-12L24,-12" transform="translate(1332.6,4023) scale(1.0,1.0)"/><path d="M0,6L24,-46" transform="translate(1366,4023) scale(1.0,1.0)"/><path d="M2,0L2,-40L13,-40C19,-40 22,-36 22,-31C22,-25 19,-21 13,-21L2,-21M13,-21C20,-21 23,-17 23,-11C23,-4 19,0 13,0L2,0" transform="translate(1399.4,4023) scale(1.0,1.0)"/></g>
<g class="t" style="stroke-width:2.8"><path d="M2,0L2,-40L13,-40C20,-40 23,-36 23,-30C23,-24 20,-20 13,-20L2,-20M13,-20L24,0" transform="translate(1614,3892) scale(1.0,1.0)"/><path d="M1,-13L24,-13C24,-21 19,-26 12.5,-26C6,-26 1,-21 1,-13C1,-5 6,0 12.5,0C18,0 22,-3 24,-7" transform="translate(1647.4,3892) scale(1.0,1.0)"/><path d="M10,0L10,-32C10,-37 13,-40 19,-40M2,-25L18,-25" transform="translate(1680.8,3892) scale(1.0,1.0)"/><path d="M12,-7.6a3,3 0 1,0 0.01,0Z" transform="translate(1714.2,3892) scale(1.0,1.0)" class="k"/><path d="M2,0L2,-40M23,0L23,-40M2,-21L23,-21" transform="translate(1747.6,3892) scale(1.0,1.0)"/><path d="M1,-13L24,-13C24,-21 19,-26 12.5,-26C6,-26 1,-21 1,-13C1,-5 6,0 12.5,0C18,0 22,-3 24,-7" transform="translate(1781,3892) scale(1.0,1.0)"/><path d="M3,-21C5,-24 8,-26 12.5,-26C18,-26 22,-23 22,-17L22,0M22,-14L11,-14C5,-14 2,-11 2,-7C2,-3 5,0 10,0C16,0 22,-3 22,-9" transform="translate(1814.4,3892) scale(1.0,1.0)"/><path d="M22,0L22,-40M22,-13C22,-21 18,-26 12,-26C6,-26 1,-21 1,-13C1,-5 6,0 12,0C18,0 22,-5 22,-13" transform="translate(1847.8,3892) scale(1.0,1.0)"/><path d="M12,0L12,-40" transform="translate(1881.2,3892) scale(1.0,1.0)"/><path d="M12,0L12,-26M12,-36L12,-39" transform="translate(1914.6,3892) scale(1.0,1.0)"/><path d="M22,-26L22,2C22,9 18,12 12,12C7,12 4,10 3,7M22,-13C22,-21 18,-26 12,-26C6,-26 1,-21 1,-13C1,-5 6,0 12,0C18,0 22,-5 22,-13" transform="translate(1948,3892) scale(1.0,1.0)"/><path d="M3,0L3,-40M3,-17C5,-23 9,-26 13,-26C19,-26 22,-23 22,-17L22,0" transform="translate(1981.4,3892) scale(1.0,1.0)"/><path d="M10,-38L10,-6C10,-2 12,0 18,0M3,-26L18,-26" transform="translate(2014.8,3892) scale(1.0,1.0)"/><path d="M18,-43C12,-35 10,-27 10,-19C10,-10 12,-2 18,7" transform="translate(2048.2,3892) scale(1.0,1.0)"/><path d="M22,-21C21,-24 17,-26 12,-26C6,-26 3,-23 3,-19.5C3,-16 6,-14.5 12,-13C19,-11.5 22,-10 22,-6.5C22,-2.5 18,0 12,0C6,0 2,-2.5 1,-6" transform="translate(2081.6,3892) scale(1.0,1.0)"/><path d="M6,-43C12,-35 14,-27 14,-19C14,-10 12,-2 6,7" transform="translate(2115,3892) scale(1.0,1.0)"/></g></g>
<g id="12_headlight"><path class="w" d="M2389.1,3040C2386.9,3035 2380.8,3021.5 2375.8,3009.9C2370.9,2998.2 2363,2981.2 2359.3,2970.1C2355.5,2959.1 2353.9,2953.6 2353.3,2943.6C2352.8,2933.7 2354.7,2922.1 2356,2910.5C2357.2,2898.9 2359.6,2882.6 2360.9,2874.1C2362.3,2865.5 2362.3,2862.8 2364.3,2859.2C2366.2,2855.6 2368.9,2853.9 2372.5,2852.6C2376.1,2851.2 2381.4,2850.9 2385.8,2850.9C2390.2,2850.9 2396.4,2854.8 2399,2852.6C2401.7,2850.4 2401,2843.5 2401.7,2837.7C2402.3,2831.9 2403.4,2824.4 2403,2817.8C2402.6,2811.2 2401.3,2804.5 2399,2797.9C2396.7,2791.3 2393,2785.8 2389.1,2778.1C2385.2,2770.3 2380.3,2760.4 2375.8,2751.6C2371.4,2742.7 2367.6,2733.9 2362.6,2725.1C2357.6,2716.2 2351.3,2706.9 2346,2698.6C2340.8,2690.3 2335.3,2683.1 2331.1,2675.4C2327,2667.7 2323.7,2660.5 2321.2,2652.2C2318.7,2643.9 2317.3,2633.4 2316.2,2625.7C2315.1,2618 2314.9,2609.2 2314.6,2605.8C2314.3,2600.3 2316.2,2593.1 2321.2,2589.3C2326.2,2585.4 2335.3,2581.1 2342.7,2579.4C2350.2,2577.6 2358.2,2577.6 2365.9,2578.7C2373.6,2579.8 2382.5,2581.4 2389.1,2586C2395.7,2590.5 2401.2,2599.2 2405.6,2605.8C2410.1,2612.5 2412.8,2620.2 2415.6,2625.7C2418.3,2631.2 2419.4,2634.8 2422.2,2639C2425,2643.1 2428.3,2648.1 2432.1,2650.6C2436,2653 2440.4,2654.4 2445.4,2653.9C2450.4,2653.3 2457.3,2650.8 2461.9,2647.2C2466.6,2643.7 2471.3,2637 2473.5,2632.3C2475.7,2627.6 2476,2624.6 2475.2,2619.1C2474.4,2613.6 2471.3,2606.9 2468.6,2599.2C2465.8,2591.5 2461.3,2581.6 2458.6,2572.7C2456,2563.9 2453,2554.5 2452.7,2546.2C2452.4,2538 2454.3,2529.7 2457,2523.1C2459.6,2516.4 2464.4,2510.9 2468.6,2506.5C2472.7,2502.1 2476.3,2498.8 2481.8,2496.6C2487.3,2494.4 2496.7,2493.2 2501.7,2493.2C2506.7,2493.2 2507.8,2493.8 2511.6,2496.6C2515.5,2499.3 2518.8,2504.3 2524.9,2509.8C2530.9,2515.3 2542.5,2523.1 2548.1,2529.7C2553.6,2536.3 2556.3,2546.2 2558,2549.5L2620.9,2629 L2683.8,2695.3 L2726.9,2754.9 L2746.8,2797.9 L2766.6,2837.7 L2776.6,2857.5 L2786.5,2864.2L2858.6,2886 L2885.1,2912.5 L2891.7,2939"/>
<path class="n" d="M2332.8,2675.4C2335.6,2679.8 2342.7,2690.8 2349.4,2701.9C2356,2712.9 2365.9,2730 2372.5,2741.6C2379.2,2753.2 2385,2762 2389.1,2771.4C2393.2,2780.8 2396.3,2789.1 2397.4,2797.9C2398.5,2806.8 2396.3,2815.6 2395.7,2824.4C2395.2,2833.2 2394.3,2846.5 2394.1,2850.9"/>
<path class="n" d="M2316.2,2589.3C2315.6,2591.6 2312,2597.4 2312.3,2603.2C2312.5,2609 2317,2620.6 2317.9,2624.1"/>
<path class="n" d="M2461.9,2508.1C2460.4,2511.2 2454.4,2519.5 2452.7,2526.4C2450.9,2533.3 2450.6,2541.3 2451.4,2549.5C2452.1,2557.8 2454.4,2567.2 2457,2576C2459.6,2584.9 2464.7,2594.8 2466.9,2602.5C2469.1,2610.3 2470.2,2616.9 2470.2,2622.4C2470.2,2627.9 2469.4,2631.5 2466.9,2635.6C2464.4,2639.8 2457.3,2645.3 2455.3,2647.2"/>
<path d="M2693.8,2910.5 L2680.5,2887.3 L2664,2854.2 L2640.8,2807.9 L2571.2,2708.5 L2561.3,2701.9 L2549.7,2705.2 L2505,2728.4 L2496.7,2738.3 L2493.4,2754.9 L2490.1,2778.1"/>
<path d="M2478.5,2854.2C2477.7,2860.8 2474.8,2882.9 2473.5,2894C2472.3,2905 2470.4,2912.2 2471.2,2920.5C2472,2928.7 2474.5,2933.2 2478.5,2943.6C2482.5,2954.1 2489.5,2971.2 2495.1,2983.4C2500.6,2995.5 2507.2,3007.1 2511.6,3016.5C2516,3025.9 2519.9,3036.1 2521.6,3040"/>
<path class="n" d="M2556.3,2702.5 L2566.3,2705.2 L2644.1,2811.2 L2667.3,2857.5 L2683.8,2890.7 L2695.4,2913.8"/>
<path d="M2384.1,2854.2C2382.5,2866.4 2375.3,2912.2 2374.2,2927.1C2373.1,2942 2374.5,2935.4 2377.5,2943.6C2380.5,2951.9 2386.6,2964.6 2392.4,2976.8C2398.2,2988.9 2407.3,3006 2412.3,3016.5C2417.2,3027 2420.6,3036.1 2422.2,3040"/>
<path d="M2448.7,3040 L2506.7,3011.5"/>
<path class="w" d="M2346,2586C2350.7,2583.1 2353.2,2584.2 2359.3,2585.3C2365.4,2586.4 2375.8,2588.1 2382.5,2592.6C2389.1,2597.1 2394.6,2605.3 2399,2612.5C2403.4,2619.6 2406.8,2627.9 2409,2635.6C2411.2,2643.4 2413.1,2650.6 2412.3,2658.8C2411.4,2667.1 2406.8,2678.1 2404,2685.3C2401.2,2692.5 2399.3,2699.4 2395.7,2701.9C2392.1,2704.4 2388.5,2701.9 2382.5,2700.2C2376.4,2698.6 2366.5,2696.1 2359.3,2691.9C2352.1,2687.8 2344.7,2682 2339.4,2675.4C2334.2,2668.8 2330.3,2660.5 2327.8,2652.2C2325.3,2643.9 2324,2634 2324.5,2625.7C2325.1,2617.4 2327.5,2609.2 2331.1,2602.5C2334.7,2595.9 2341.3,2588.8 2346,2586Z"/>
<ellipse cx="2364.3" cy="2643.9" rx="29.1" ry="40.4" transform="rotate(-8 2364.3 2643.9)"/>
<ellipse cx="2368.9" cy="2645.3" rx="23.8" ry="35.8" transform="rotate(-8 2368.9 2645.3)" class="n"/>
<ellipse cx="2347.7" cy="2596.6" rx="3.3" ry="3.6" transform="rotate(0 2347.7 2596.6)" class="n"/>
<ellipse cx="2390.7" cy="2690.3" rx="3.3" ry="3.6" transform="rotate(0 2390.7 2690.3)" class="n"/>
<path class="n" d="M2391.7,2704.5C2389.5,2704.3 2384.6,2704.5 2378.5,2702.9C2372.4,2701.2 2362.5,2698.7 2355.3,2694.6C2348.1,2690.5 2340.7,2684.7 2335.4,2678C2330.2,2671.4 2326.3,2663.1 2323.9,2654.9C2321.4,2646.6 2320,2636.6 2320.5,2628.4C2321.1,2620.1 2326.1,2609 2327.2,2605.2"/>
<path class="w" d="M2493.4,2501.5C2498.1,2498.7 2500.6,2499.8 2506.7,2500.9C2512.7,2502 2523.2,2503.6 2529.8,2508.1C2536.5,2512.7 2542,2520.8 2546.4,2528C2550.8,2535.2 2554.1,2543.5 2556.3,2551.2C2558.5,2558.9 2560.5,2566.1 2559.6,2574.4C2558.8,2582.7 2554.1,2593.7 2551.4,2600.9C2548.6,2608.1 2546.7,2615 2543.1,2617.4C2539.5,2619.9 2535.9,2617.4 2529.8,2615.8C2523.8,2614.1 2513.8,2611.6 2506.7,2607.5C2499.5,2603.4 2492,2597.6 2486.8,2590.9C2481.5,2584.3 2477.7,2576 2475.2,2567.8C2472.7,2559.5 2471.3,2549.5 2471.9,2541.3C2472.4,2533 2474.9,2524.7 2478.5,2518.1C2482.1,2511.5 2488.7,2504.4 2493.4,2501.5Z"/>
<ellipse cx="2511.6" cy="2559.5" rx="29.1" ry="40.4" transform="rotate(-8 2511.6 2559.5)"/>
<ellipse cx="2516.3" cy="2560.8" rx="23.8" ry="35.8" transform="rotate(-8 2516.3 2560.8)" class="n"/>
<ellipse cx="2495.1" cy="2512.1" rx="3.3" ry="3.6" transform="rotate(0 2495.1 2512.1)" class="n"/>
<ellipse cx="2538.1" cy="2605.8" rx="3.3" ry="3.6" transform="rotate(0 2538.1 2605.8)" class="n"/>
<path class="n" d="M2539.1,2620.1C2536.9,2619.8 2531.9,2620.1 2525.9,2618.4C2519.8,2616.8 2509.9,2614.3 2502.7,2610.1C2495.5,2606 2488.1,2600.2 2482.8,2593.6C2477.6,2587 2473.7,2578.7 2471.2,2570.4C2468.7,2562.1 2467.4,2552.2 2467.9,2543.9C2468.5,2535.6 2473.4,2524.6 2474.5,2520.7"/>
<path class="w" d="M2672.2,2735C2676.9,2732.1 2679.4,2733.2 2685.5,2734.3C2691.6,2735.4 2702,2737.1 2708.7,2741.6C2715.3,2746.2 2720.8,2754.3 2725.2,2761.5C2729.6,2768.7 2733,2776.9 2735.2,2784.7C2737.4,2792.4 2739.3,2799.6 2738.5,2807.9C2737.6,2816.1 2733,2827.2 2730.2,2834.4C2727.4,2841.5 2725.5,2848.4 2721.9,2850.9C2718.3,2853.4 2714.7,2850.9 2708.7,2849.3C2702.6,2847.6 2692.7,2845.1 2685.5,2841C2678.3,2836.8 2670.9,2831 2665.6,2824.4C2660.4,2817.8 2656.5,2809.5 2654,2801.2C2651.5,2793 2650.2,2783 2650.7,2774.7C2651.3,2766.5 2653.8,2758.2 2657.3,2751.6C2660.9,2744.9 2667.5,2737.9 2672.2,2735Z"/>
<ellipse cx="2690.5" cy="2793" rx="29.1" ry="40.4" transform="rotate(-8 2690.5 2793)"/>
<ellipse cx="2695.1" cy="2794.3" rx="23.8" ry="35.8" transform="rotate(-8 2695.1 2794.3)" class="n"/>
<ellipse cx="2673.9" cy="2745.6" rx="3.3" ry="3.6" transform="rotate(0 2673.9 2745.6)" class="n"/>
<ellipse cx="2716.9" cy="2839.3" rx="3.3" ry="3.6" transform="rotate(0 2716.9 2839.3)" class="n"/>
<path class="n" d="M2717.9,2853.6C2715.7,2853.3 2710.8,2853.6 2704.7,2851.9C2698.6,2850.2 2688.7,2847.8 2681.5,2843.6C2674.3,2839.5 2666.9,2833.7 2661.6,2827.1C2656.4,2820.4 2652.5,2812.2 2650.1,2803.9C2647.6,2795.6 2646.2,2785.7 2646.7,2777.4C2647.3,2769.1 2652.3,2758.1 2653.4,2754.2"/>
<path class="w" d="M2413.9,2884C2418.6,2881.2 2421.1,2882.3 2427.2,2883.4C2433.2,2884.5 2443.7,2886.1 2450.4,2890.7C2457,2895.2 2462.5,2903.3 2466.9,2910.5C2471.3,2917.7 2474.6,2926 2476.9,2933.7C2479.1,2941.4 2481,2948.6 2480.2,2956.9C2479.3,2965.2 2474.6,2976.2 2471.9,2983.4C2469.1,2990.6 2467.2,2997.5 2463.6,2999.9C2460,3002.4 2456.4,2999.9 2450.4,2998.3C2444.3,2996.6 2434.4,2994.1 2427.2,2990C2420,2985.9 2412.5,2980.1 2407.3,2973.4C2402.1,2966.8 2398.2,2958.5 2395.7,2950.3C2393.2,2942 2391.9,2932 2392.4,2923.8C2393,2915.5 2395.4,2907.2 2399,2900.6C2402.6,2894 2409.2,2886.9 2413.9,2884Z"/>
<ellipse cx="2432.1" cy="2942" rx="29.1" ry="40.4" transform="rotate(-8 2432.1 2942)"/>
<ellipse cx="2436.8" cy="2943.3" rx="23.8" ry="35.8" transform="rotate(-8 2436.8 2943.3)" class="n"/>
<ellipse cx="2415.6" cy="2894.6" rx="3.3" ry="3.6" transform="rotate(0 2415.6 2894.6)" class="n"/>
<ellipse cx="2458.6" cy="2988.3" rx="3.3" ry="3.6" transform="rotate(0 2458.6 2988.3)" class="n"/>
<path class="n" d="M2459.6,3002.6C2457.4,3002.3 2452.5,3002.6 2446.4,3000.9C2440.3,2999.3 2430.4,2996.8 2423.2,2992.7C2416,2988.5 2408.6,2982.7 2403.3,2976.1C2398.1,2969.5 2394.2,2961.2 2391.7,2952.9C2389.3,2944.6 2387.9,2934.7 2388.4,2926.4C2389,2918.1 2393.9,2907.1 2395.1,2903.2"/>
<ellipse cx="2577.9" cy="2628.4" rx="9.9" ry="13.2" transform="rotate(-15 2577.9 2628.4)"/>
<path class="n" d="M2572.9,2619.1C2574.3,2619.6 2579.1,2619.9 2581.2,2622.4C2583.2,2624.9 2584.5,2632.1 2585.1,2634"/>
<path class="w" d="M2617.6,2594.3 L2693.8,2590.9 L2700.4,2599.2 L2726.9,2662.1 L2728.5,2668.8 L2644.1,2715.1 L2637.5,2711.8 L2596.1,2655.5 L2594.4,2648.9 L2601,2642.3 L2692.1,2592.6"/>
<path d="M2594.4,2648.9 L2601,2642.3 L2692.1,2592.6"/>
<path d="M2617.6,2594.3 L2627.5,2623.1"/>
<path class="n" d="M2598.4,2652.9 L2641.4,2712.5"/>
<path d="M2692.1,2592.6C2693.5,2595.9 2701.5,2605.3 2700.4,2612.5C2699.3,2619.6 2687.1,2629.9 2685.5,2635.6C2683.8,2641.4 2685.2,2644.5 2690.5,2647.2C2695.7,2650 2712.5,2651.4 2716.9,2652.2"/>
<path class="n" d="M2630.8,2610.8 L2634.8,2623.1"/>
<path class="n" d="M2652.4,2608.5 L2654.7,2615.1"/>
<path class="w" d="M2491.8,2849.3C2494.5,2855.6 2503.3,2878.8 2508.3,2887.3C2513.3,2895.9 2516.6,2898.1 2521.6,2900.6C2526.5,2903.1 2533.4,2903.3 2538.1,2902.2C2542.8,2901.1 2547.2,2898.1 2549.7,2894C2552.2,2889.8 2553.8,2884.6 2553,2877.4C2552.2,2870.2 2548.3,2857.8 2544.7,2850.9C2541.2,2844 2535.6,2839.3 2531.5,2836C2527.4,2832.7 2521.8,2831.9 2519.9,2831"/>
<ellipse cx="2523.2" cy="2870.8" rx="7.9" ry="13.2" transform="rotate(-22 2523.2 2870.8)"/>
<ellipse cx="2525.5" cy="2872.1" rx="5" ry="9.3" transform="rotate(-22 2525.5 2872.1)" class="n"/>
<path class="w" d="M2445.4,2811.2 L2503.3,2777.1 L2505,2781.4 L2526.5,2824.4 L2524.9,2827.7 L2452,2865.8 L2443.7,2864.2 L2441.4,2850.9Z"/>
<path class="n" d="M2449.4,2813.8 L2446.1,2850.9 L2452.7,2860.8"/>
<path d="M2488.4,2779.7 L2503.3,2776.4"/>
<path d="M2660.7,2859.2C2659,2861.1 2653.2,2865 2650.7,2870.8C2648.2,2876.6 2646.3,2885.7 2645.7,2894C2645.2,2902.2 2645.5,2911.1 2647.4,2920.5C2649.3,2929.8 2652.9,2940.9 2657.3,2950.3C2661.8,2959.6 2667.8,2969 2673.9,2976.8C2680,2984.5 2686,2990 2693.8,2996.6C2701.5,3003.2 2711.4,3009.9 2720.3,3016.5C2729.1,3023.1 2742.3,3033.1 2746.8,3036.4"/>
<path class="n" d="M2667.9,2865.8C2666.4,2867.7 2661.2,2872.2 2659,2877.4C2656.8,2882.6 2655.1,2890.1 2654.7,2897.3C2654.3,2904.4 2654.9,2912.2 2656.7,2920.5C2658.5,2928.7 2661.6,2938.7 2665.6,2946.9C2669.6,2955.2 2674.7,2963 2680.5,2970.1C2686.3,2977.3 2692.7,2983.4 2700.4,2990C2708.1,2996.6 2718.1,3003.5 2726.9,3009.9C2735.7,3016.2 2749,3025.1 2753.4,3028.1"/>
<path d="M2700.4,2900.6 L2769.9,2859.2"/></g>
<g id="13_headlight2"><path d="M3046.5,3052 L2775,3599 L2768,3615 L2755,3638 L2735,3661 L2705,3683 L2640,3713.3 L2330,3904 L2305,3919 L2285,3924 L2271,3916 L2270,3900 L2566,3331" style="stroke-width:43;stroke-linecap:butt"/><path d="M3046.5,3052 L2775,3599 L2768,3615 L2755,3638 L2735,3661 L2705,3683 L2640,3713.3 L2330,3904 L2305,3919 L2285,3924 L2271,3916 L2270,3900 L2566,3331" style="stroke:#fff;stroke-width:37;stroke-linecap:butt"/>
<ellipse cx="3045.7" cy="3051.6" rx="19.5" ry="19.5" transform="rotate(0 3045.7 3051.6)" class="w"/>
<ellipse cx="2563.6" cy="3330.5" rx="20.5" ry="20.5" transform="rotate(0 2563.6 3330.5)" class="w"/>
<path d="M2806.4,3485.5 L2800.2,3498.8 L2753.2,3537.8 L2732.8,3552 L2723.9,3549.3 L2726.6,3540.4 L2817.3,3375.5" style="stroke-width:23;stroke-linecap:butt"/><path d="M2806.4,3485.5 L2800.2,3498.8 L2753.2,3537.8 L2732.8,3552 L2723.9,3549.3 L2726.6,3540.4 L2817.3,3375.5" style="stroke:#fff;stroke-width:17;stroke-linecap:butt"/>
<path d="M2817.3,3375.5 L2840.1,3329.3 L2849.9,3308.1 L2857,3300.1 L2860.5,3308.1 L2854.3,3329.3" style="stroke-width:23;stroke-linecap:round"/><path d="M2817.3,3375.5 L2840.1,3329.3 L2849.9,3308.1 L2857,3300.1 L2860.5,3308.1 L2854.3,3329.3" style="stroke:#fff;stroke-width:17;stroke-linecap:round"/>
<path d="M2857.9,3371.9 L2808.2,3478.4" style="stroke-width:23;stroke-linecap:butt"/><path d="M2857.9,3371.9 L2808.2,3478.4" style="stroke:#fff;stroke-width:17;stroke-linecap:butt"/>
<path d="M2968.8,3249.5 L2982.1,3261 L2983,3269.9 L2922.6,3389.7 L2915.5,3395.9 L2906.7,3395 L2900.5,3388.8"/>
<path class="n" d="M2966.1,3254.8 L2976.7,3265.5 L2977.6,3271.7 L2918.2,3390.5"/>
<path d="M2922.6,3297.4 L2888,3386.1" style="stroke-width:23;stroke-linecap:round"/><path d="M2922.6,3297.4 L2888,3386.1" style="stroke:#fff;stroke-width:17;stroke-linecap:round"/>
<path class="n" d="M2905.8,3316.9C2907.4,3316.6 2912.4,3314.3 2915.5,3315.2C2918.6,3316 2922.9,3321.1 2924.4,3322.2"/>
<path d="M2612.3,3559.3C2611.8,3564.6 2606,3583.6 2609,3590.8C2612,3598 2620.3,3601.5 2630.5,3602.4C2640.7,3603.2 2658.7,3599.3 2670.3,3595.7C2681.9,3592.2 2695.7,3586.9 2700.1,3580.8C2704.5,3574.8 2694,3565.1 2696.8,3559.3C2699.5,3553.5 2713.3,3548.3 2716.6,3546.1" style="stroke-width:23;stroke-linecap:round"/><path d="M2612.3,3559.3C2611.8,3564.6 2606,3583.6 2609,3590.8C2612,3598 2620.3,3601.5 2630.5,3602.4C2640.7,3603.2 2658.7,3599.3 2670.3,3595.7C2681.9,3592.2 2695.7,3586.9 2700.1,3580.8C2704.5,3574.8 2694,3565.1 2696.8,3559.3C2699.5,3553.5 2713.3,3548.3 2716.6,3546.1" style="stroke:#fff;stroke-width:17;stroke-linecap:round"/>
<path d="M2835.4,3243.1C2829.9,3246.4 2810.3,3256.3 2802.3,3262.9C2794.3,3269.5 2790.1,3276.2 2787.4,3282.8C2784.6,3289.4 2782.7,3288.3 2785.7,3302.7C2788.8,3317 2802.3,3357.9 2805.6,3368.9"/>
<path d="M2815.5,3279.5C2814.1,3282.2 2807.8,3290.5 2807.2,3296C2806.7,3301.6 2811.4,3309.8 2812.2,3312.6"/>
<path d="M2871.8,2882.7 L2931.4,2846.2 L2944.7,2843.6 L2957.9,2847.2 L2967.9,2856.8 L3042.4,2938.3 L3059.9,2948.2 L3077.1,2946.6 L3087.1,2932.3 L3085.8,2919.1 L3073.8,2909.2 L3042.4,2890.9" style="stroke-width:23.5;stroke-linecap:round"/><path d="M2871.8,2882.7 L2931.4,2846.2 L2944.7,2843.6 L2957.9,2847.2 L2967.9,2856.8 L3042.4,2938.3 L3059.9,2948.2 L3077.1,2946.6 L3087.1,2932.3 L3085.8,2919.1 L3073.8,2909.2 L3042.4,2890.9" style="stroke:#fff;stroke-width:17.5;stroke-linecap:round"/>
<path d="M2891.7,2942.3 L2931.4,2919.1 L2948,2919.1 L2974.5,2942.3 L3083.8,3061.5 L3085.4,3068.1 L3058.9,3121.1 L3050.7,3121.1 L3042.4,3114.5"/>
<path class="n" d="M2895,2948.9 L2938.1,2925.7 L2948,2925.7 L2967.9,2945.6 L3080.5,3064.8 L3054,3117.8"/>
<path d="M2779.1,3023.4 L2794,3026.7 L2805.6,3025.1 L2808.9,3041.6 L2818.8,3048.2 L2832.1,3041.6 L2921.5,2991.9 L3007.6,3078.1"/>
<path d="M2943,2929 L2924.8,2991.9"/>
<path d="M2921.5,2991.9 L2901.6,3001.9 L2971.2,3044.9 L2997.7,3068.1"/>
<path d="M2997.7,3068.1 L2891.7,3121.1 L2883.4,3114.5 L2871.8,3097.9 L2868.5,3111.2 L2891.7,3210.5 L2898.3,3233.7"/>
<path d="M2981.1,3051.6 L2876.8,3106.2"/>
<path d="M2904.9,3121.1C2903.8,3122.8 2899.7,3127.2 2898.3,3131C2896.9,3134.9 2893.3,3129.4 2896.7,3144.3C2900,3159.2 2914,3205 2918.2,3220.5C2922.3,3235.9 2920.9,3234.3 2921.5,3237"/>
<path d="M2898.3,3137.7 L2944.7,3200.6"/>
<path d="M2818.8,3091.3 L2868.5,3127.7"/>
<path d="M2805.6,3071.4 L2871.8,3121.1"/>
<ellipse cx="2845.3" cy="2997.9" rx="16.6" ry="6" transform="rotate(-35 2845.3 2997.9)"/>
<ellipse cx="2845.3" cy="2998.6" rx="10.6" ry="3" transform="rotate(-35 2845.3 2998.6)" class="n"/>
<ellipse cx="2923.2" cy="3145.9" rx="15.9" ry="5.6" transform="rotate(-40 2923.2 3145.9)"/>
<path d="M2901.6,3127.7 L2921.5,3144.3"/>
<path class="w" d="M2795.6,2965.5 L2805.6,2958.8 L2817.2,2962.1 L2823.8,2973.7 L2820.5,2987 L2808.9,2993.6 L2795.6,2988.6 L2790.7,2977Z"/>
<ellipse cx="2807.2" cy="2976.1" rx="7.9" ry="9.3" transform="rotate(0 2807.2 2976.1)"/>
<path d="M2807.2,2968.8 L2807.2,2983.7"/>
<path d="M2640,2799.9 L2686.4,2892.6 L2702.9,2915.8 L2765.8,2942.3 L2785.7,2965.5 L2795.6,2975.4"/>
<path class="n" d="M2645,2794.9 L2691.3,2889.3 L2706.2,2910.8 L2769.2,2937.3 L2789,2960.5 L2799,2968.8"/>
<path d="M2699.6,2899.2 L2770.8,2857.8"/>
<path d="M2825.5,2970.4 L2888.4,2937.3"/>
<path d="M2752.6,2987 L2764.2,2957.2"/>
<path d="M2795.6,3021.8 L2803.9,2998.6"/>
<path class="n" d="M2706.2,2929C2705.1,2930.7 2700.2,2934.5 2699.6,2939C2699.1,2943.4 2699.6,2951.1 2702.9,2955.5C2706.2,2959.9 2715.3,2964.9 2719.5,2965.5C2723.6,2966 2725.8,2962.4 2727.8,2958.8C2729.7,2955.2 2730.5,2946.4 2731.1,2943.9"/>
<path d="M2706.2,2925.7C2709.5,2934.5 2718.9,2967.7 2726.1,2978.7C2733.3,2989.7 2743.2,2987 2749.3,2991.9C2755.4,2996.9 2763.1,3004.1 2762.5,3008.5C2762,3012.9 2752.6,3017.9 2746,3018.4C2739.4,3019 2726.7,3012.9 2722.8,3011.8"/>
<path d="M2646.6,2876C2646.3,2882.1 2643.3,2899.8 2645,2912.5C2646.6,2925.2 2651.3,2940.1 2656.6,2952.2C2661.8,2964.4 2668.1,2975.4 2676.4,2985.3C2684.7,2995.3 2695.7,3003 2706.2,3011.8C2716.7,3020.6 2726.1,3028.4 2739.4,3038.3C2752.6,3048.2 2778,3065.9 2785.7,3071.4"/>
<path d="M2663.2,2862.8C2662.6,2870.5 2658.8,2895.4 2659.9,2909.2C2661,2923 2664.8,2934 2669.8,2945.6C2674.8,2957.2 2680.8,2968.2 2689.7,2978.7C2698.5,2989.2 2707.9,2997.5 2722.8,3008.5C2737.7,3019.5 2754.8,3027.8 2779.1,3044.9C2803.4,3062 2853.6,3100.1 2868.5,3111.2"/>
<path d="M2785.7,3025.1 L2799,3137.7 L2895,3240.3 L2901.6,3250.3 L2911.6,3243.6 L2921.5,3223.8" style="stroke-width:21;stroke-linecap:round"/><path d="M2785.7,3025.1 L2799,3137.7 L2895,3240.3 L2901.6,3250.3 L2911.6,3243.6 L2921.5,3223.8" style="stroke:#fff;stroke-width:15;stroke-linecap:round"/>
<path d="M2876.8,3106.2 L2885.1,3137.7 L2911.6,3237" style="stroke-width:21;stroke-linecap:round"/><path d="M2876.8,3106.2 L2885.1,3137.7 L2911.6,3237" style="stroke:#fff;stroke-width:15;stroke-linecap:round"/>
<circle cx="2652.6" cy="3062.7" r="43"/>
<g class="t" style="stroke-width:2.8"><path d="M2,0L2,-40L13,-40C19,-40 22,-36 22,-31C22,-25 19,-21 13,-21L2,-21M13,-21C20,-21 23,-17 23,-11C23,-4 19,0 13,0L2,0" transform="translate(2640.5,3082.5)"/></g>
<path d="M2683.7,3094.6 L2727.2,3142.2 L2787.2,3109"/></g>
<g id="14_headlight3"><path d="M2352.5,2900C2352.9,2906.9 2352.5,2927.6 2354.6,2941.4C2356.7,2955.2 2359.1,2966.2 2364.9,2982.8C2370.8,2999.4 2382.2,3024.9 2389.8,3040.7C2397.4,3056.6 2405.3,3069 2410.5,3078C2415.6,3087 2418.4,3085.6 2420.8,3094.6C2423.2,3103.5 2423.2,3123.5 2425,3131.8C2426.7,3140.1 2427.4,3139.4 2431.2,3144.2C2435,3149.1 2442.9,3156.3 2447.7,3160.8C2452.6,3165.3 2456.3,3169.8 2460.1,3171.1C2463.9,3172.5 2468.8,3169.4 2470.5,3169.1"/>
<path d="M2375.3,2900C2375.6,2905.5 2373.6,2919.3 2377.4,2933.1C2381.1,2946.9 2389.1,2962.1 2398.1,2982.8C2407,3003.5 2425.6,3044.9 2431.2,3057.3"/>
<path class="n" d="M2434.5,3065.6C2436,3074.6 2438.6,3105.6 2443.6,3119.4C2448.6,3133.2 2460.8,3143.5 2464.3,3148.4"/>
<path d="M2474.6,2924.8 L2485,2949.7 L2518.1,3020 L2538.8,3065.6 L2551.2,3082.1 L2563.6,3094.6 L2557.4,3102.8 L2561.6,3107 L2571.9,3125.6 L2569.8,3136 L2562.8,3125.6 L2559.5,3164.9 L2538.8,3198.1 L2509.8,3218.7 L2476.7,3236.1"/>
<path d="M2431.2,3053.2 L2507.7,3011.8"/>
<path d="M2501.5,3158.7 L2561.6,3123.5"/>
<path d="M2462.2,3169.1C2462.6,3167 2462.2,3160.2 2464.3,3156.7C2466.4,3153.1 2470.8,3148.6 2474.6,3147.5C2478.4,3146.5 2483.6,3147.5 2487.1,3150.4C2490.5,3153.3 2494.3,3160.4 2495.3,3164.9C2496.4,3169.4 2494.3,3173.9 2493.3,3177.4C2492.2,3180.8 2489.8,3184.3 2489.1,3185.6"/>
<path class="n" d="M2470.5,3167C2471.2,3165.4 2472.6,3158.9 2474.6,3157.5C2476.7,3156.1 2480.8,3156.8 2482.9,3158.7C2485.1,3160.7 2486.7,3167.3 2487.5,3169.1"/>
<ellipse cx="2521.4" cy="3184.8" rx="14.5" ry="4.6" transform="rotate(-45 2521.4 3184.8)"/>
<ellipse cx="2521.4" cy="3185.6" rx="9.1" ry="2.5" transform="rotate(-45 2521.4 3185.6)" class="n"/>
<path d="M2487.1,3178.2 L2433.2,3206.3 L2431.2,3214.6 L2437.4,3229.1 L2565.7,3357.4"/>
<path class="n" d="M2491.2,3185.6 L2443.6,3210.5 L2441.5,3216.7 L2447.7,3227 L2559.5,3347.1"/>
<path d="M2432.4,3215.4 L2411.3,3280"/>
<path class="w" d="M2456.8,3242.8 L2569.8,3360.7 L2566.9,3367.8 L2538.8,3420.8 L2529.7,3419.9 L2495.3,3385.2"/>
<path class="n" d="M2563.6,3358.7 L2534.7,3417.4"/>
<path d="M2353.3,3259.3 L2303.7,3287.1 L2298.7,3298.2 L2302,3309.8 L2336,3367.8 L2338,3386.4 L2325.6,3401.7 L2304.9,3404.2 L2286.3,3392.6 L2271.8,3367.8 L2264.8,3338" style="stroke-width:23.5;stroke-linecap:round"/><path d="M2353.3,3259.3 L2303.7,3287.1 L2298.7,3298.2 L2302,3309.8 L2336,3367.8 L2338,3386.4 L2325.6,3401.7 L2304.9,3404.2 L2286.3,3392.6 L2271.8,3367.8 L2264.8,3338" style="stroke:#fff;stroke-width:17.5;stroke-linecap:round"/>
<path d="M2477.5,3376.1 L2326.8,3216.7 L2315.3,3209.6 L2298.7,3210.5 L2242.8,3239.4 L2237.8,3249.8 L2238.7,3260.1 L2247,3274.6 L2294.6,3338.8" style="stroke-width:23.5;stroke-linecap:butt"/><path d="M2477.5,3376.1 L2326.8,3216.7 L2315.3,3209.6 L2298.7,3210.5 L2242.8,3239.4 L2237.8,3249.8 L2238.7,3260.1 L2247,3274.6 L2294.6,3338.8" style="stroke:#fff;stroke-width:17.5;stroke-linecap:butt"/>
<path d="M2470.5,3382.3 L2485,3369.8"/>
<path class="n" d="M2282.1,3338.8 L2294.6,3371.9"/>
<path d="M2208.5,3479.5 L2344.2,3407.5 L2364.9,3403.4 L2389.8,3411.7 L2476.7,3453.9" style="stroke-width:23.5;stroke-linecap:butt"/><path d="M2208.5,3479.5 L2344.2,3407.5 L2364.9,3403.4 L2389.8,3411.7 L2476.7,3453.9" style="stroke:#fff;stroke-width:17.5;stroke-linecap:butt"/>
<ellipse cx="2208.5" cy="3479.5" rx="5.4" ry="10.8" transform="rotate(-28 2208.5 3479.5)" class="w"/>
<path class="n" d="M2240.7,3456.8 L2254,3470.4"/></g>
<g id="15_headlight4"><path class="w" d="M2202.2,3483.4C2199.8,3483.1 2192.6,3483.7 2187.3,3481.8C2182.1,3479.8 2175.7,3475.7 2170.8,3471.8C2165.8,3468 2159.7,3460.8 2157.5,3458.6L1876,3332.7C1872.2,3332.1 1860.6,3328.2 1852.9,3328.8C1845.1,3329.3 1836.6,3331.5 1829.7,3336C1822.8,3340.6 1816.2,3349.8 1811.5,3355.9C1806.8,3362 1803.5,3365.3 1801.5,3372.5C1799.6,3379.6 1799.6,3390.1 1799.9,3399C1800.1,3407.8 1801,3416.1 1803.2,3425.5C1805.4,3434.8 1808.7,3445.9 1813.1,3455.3C1817.5,3464.6 1823.1,3473.5 1829.7,3481.8C1836.3,3490 1849,3501.1 1852.9,3504.9L2054.9,3642.4C2057.1,3644.9 2063.2,3652.3 2068.1,3657.3C2073.1,3662.2 2078.6,3668.3 2084.7,3672.2C2090.7,3676 2097.4,3678.8 2104.5,3680.5C2111.7,3682.1 2121.1,3682.7 2127.7,3682.1C2134.4,3681.6 2141.5,3678 2144.3,3677.1L2270.1,3605.9C2271.2,3605.7 2273.4,3604 2276.8,3604.3C2280.1,3604.6 2287.8,3607 2290,3607.6L2354,3675.2 L2360.6,3676.9 L2365.6,3671.9 L2395.4,3695.1 L2461.6,3565.9 L2456.7,3559.3 L2431.8,3531.2 L2430.2,3522.9 L2436.8,3511.3 L2451.7,3500.7L2385.5,3453.3 L2372.2,3445.1 L2355.6,3441.1 L2342.4,3443.4L2220.5,3506.6Z"/>
<path d="M1801.5,3372.5C1802.4,3370.3 1803.5,3363.4 1806.5,3359.2C1809.5,3355.1 1814.2,3349.8 1819.7,3347.6C1825.3,3345.4 1836.3,3346.3 1839.6,3346L2141,3476.8C2143.2,3479.3 2149.3,3487 2154.2,3491.7C2159.2,3496.4 2164.2,3502.2 2170.8,3504.9C2177.4,3507.7 2185.7,3508 2194,3508.2C2202.2,3508.5 2216,3506.9 2220.5,3506.6"/>
<path class="n" d="M2147.6,3465.2 L2154.2,3468.5"/>
<path d="M2184,3531.4 L2111.2,3677.1"/>
<path d="M2360.6,3456.7 L2287.8,3602.4"/>

<path class="n" d="M2433.5,3526.2 L2440.1,3531.2 L2460,3561"/>
<path class="n" d="M2359,3666.3C2358.4,3667.1 2355.4,3669.6 2355.6,3670.9C2355.9,3672.2 2359.8,3673.7 2360.6,3674.2"/>
<ellipse cx="1865.4" cy="3436.7" rx="33.1" ry="54.6" transform="rotate(-28 1865.4 3436.7)"/>
<ellipse cx="1873.4" cy="3436.1" rx="25.8" ry="43.1" transform="rotate(-28 1873.4 3436.1)" class="n"/>
<ellipse cx="1880.3" cy="3429.4" rx="11.9" ry="21.2" transform="rotate(-28 1880.3 3429.4)"/>
<path class="n" d="M1876,3410.6C1877.1,3413 1879.6,3420.2 1882.7,3425.5C1885.7,3430.7 1892.3,3439.3 1894.3,3442"/>
<path d="M1939,3471.8C1939,3465.2 1942.3,3461.6 1945.6,3458.6C1948.9,3455.5 1953.3,3454.2 1958.8,3453.6C1964.4,3453.1 1969.9,3451.7 1978.7,3455.3C1987.5,3458.8 1999.7,3466.9 2011.8,3475.1C2024,3483.4 2040.5,3496.7 2051.6,3504.9C2062.6,3513.2 2072,3518.2 2078.1,3524.8C2084.1,3531.4 2086.1,3536.9 2088,3544.7C2089.9,3552.4 2089.6,3564 2089.6,3571.2C2089.6,3578.3 2089.6,3584.1 2088,3587.7C2086.3,3591.3 2084.1,3592.7 2079.7,3592.7C2075.3,3592.7 2070.6,3590.8 2061.5,3587.7C2052.4,3584.7 2036.7,3580 2025.1,3574.5C2013.5,3569 2001.9,3562.9 1991.9,3554.6C1982,3546.3 1973.2,3534.2 1965.5,3524.8C1957.7,3515.4 1950,3507.1 1945.6,3498.3C1941.2,3489.5 1939,3478.4 1939,3471.8Z"/>
<path class="n" d="M1950.6,3460.2C1950.4,3462.2 1949,3466 1949.6,3471.8C1950.1,3477.6 1949.6,3486.2 1953.9,3495C1958.2,3503.8 1968.5,3516.5 1975.4,3524.8C1982.3,3533.1 1986.4,3538.3 1995.3,3544.7C2004.1,3551 2016.8,3557.4 2028.4,3562.9C2040,3568.4 2055.1,3574.2 2064.8,3577.8C2074.5,3581.4 2082.7,3583.3 2086.3,3584.4"/>
<ellipse cx="2295" cy="3504.9" rx="16.6" ry="5" transform="rotate(-40 2295 3504.9)"/>
<ellipse cx="2251.9" cy="3592.7" rx="16.6" ry="4.6" transform="rotate(-40 2251.9 3592.7)"/>
<path d="M2270.1,3485.1 L2295,3504.9"/>
<circle cx="2128.3" cy="3328.6" r="43"/>
<g class="t" style="stroke-width:2.8"><path d="M0,0L12,-40L24,0M4.5,-13L19.5,-13" transform="translate(2116.3,3348) scale(1,0.97)"/></g>
<path d="M2159.2,3362.5 L2222.1,3431.4"/>
<path d="M2541.1,3425.2C2541.9,3428.5 2547.2,3437.9 2546.1,3445.1C2545,3452.2 2539.7,3462.2 2534.5,3468.2C2529.2,3474.3 2517.9,3479.3 2514.6,3481.5"/>
<path d="M2377.5,3725.8C2381.7,3723.9 2396.6,3718.1 2402.4,3714.3C2408.2,3710.4 2409.9,3706.8 2412.3,3702.7C2414.7,3698.5 2416.3,3693.6 2416.6,3689.4C2416.9,3685.3 2414.4,3679.8 2414,3677.8" style="stroke-width:22;stroke-linecap:butt"/><path d="M2377.5,3725.8C2381.7,3723.9 2396.6,3718.1 2402.4,3714.3C2408.2,3710.4 2409.9,3706.8 2412.3,3702.7C2414.7,3698.5 2416.3,3693.6 2416.6,3689.4C2416.9,3685.3 2414.4,3679.8 2414,3677.8" style="stroke:#fff;stroke-width:16;stroke-linecap:butt"/>
<ellipse cx="2378.5" cy="3725.2" rx="6" ry="9.9" transform="rotate(-25 2378.5 3725.2)" class="w"/>
<path d="M2449.7,3600 L2397.4,3696"/>
<path d="M2451.1,3600 L2398.7,3696" style="stroke-width:4.5"/>
<path class="w" d="M2351,3798.7 L2490.1,3719.2 L2500.1,3719.2 L2494.9,3719.7 L2554.9,3754.6 L2564.9,3764.6 L2562.4,3779.6 L2377.5,3879.8 L2367.6,3881.5 L2322.9,3851.7Z"/>
<path d="M2370.9,3874.9 L2554.9,3768.6"/>
<path class="n" d="M2370.9,3874.9 L2370.2,3881.5"/>
<path d="M2250,3934.5 L2245.1,3951 L2246.7,3964.3 L2258.3,3984.2 L2260,4000.7 L2268.2,4007.3 L2311.3,4005.7 L2331.2,3997.4 L2437.1,3898.1 L2438.8,3888.1 L2430.5,3864.9"/>
<path class="n" d="M2256.7,3937.8C2255.8,3940.3 2252.1,3948.3 2251.7,3952.7C2251.3,3957.1 2252.1,3959.6 2254.3,3964.3C2256.5,3969 2262.7,3975.3 2264.9,3980.8C2267.1,3986.4 2266.9,3993.1 2267.6,3997.4C2268.2,4001.7 2268.7,4005.1 2268.9,4006.7"/>
<path d="M2274.9,3980.8 L2433.8,3891.4"/>
<path d="M2258.3,3959.3 L2341.1,3913"/>
<path d="M2261.6,3941.1 L2283.2,3959.3 L2319.6,3939.4 L2317.9,3931.2"/>
<path class="n" d="M2283.2,3959.3 L2288.1,3944.4"/>
<path class="n" d="M2308,3921.2C2309.4,3921.5 2314.6,3921.2 2316.3,3922.9C2317.9,3924.5 2319,3929 2317.9,3931.2C2316.8,3933.4 2311,3935.3 2309.6,3936.1"/>
<path d="M2390.8,3891.4 L2397.4,3896.4 L2430.5,3878.2 L2428.9,3861.6 L2420.6,3858.3"/>
<ellipse cx="2340.1" cy="3976.5" rx="16.6" ry="7.3" transform="rotate(-40 2340.1 3976.5)"/>
<ellipse cx="2339.4" cy="3977.5" rx="11.9" ry="4.3" transform="rotate(-40 2339.4 3977.5)" class="n"/>
<path d="M2299.7,3891.4 L2341.1,3868.2"/>
<path d="M2147.4,3872.2 L2263.3,3872.2"/></g>
</svg>
</body></html>
